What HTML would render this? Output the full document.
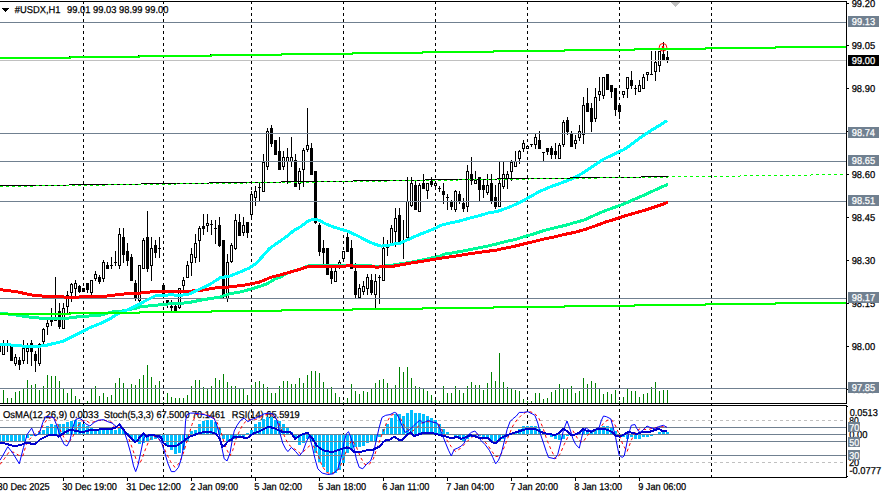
<!DOCTYPE html>
<html><head><meta charset="utf-8"><style>html,body{margin:0;padding:0;background:#fff;width:883px;height:491px;overflow:hidden}</style></head>
<body>
<svg width="883" height="491" viewBox="0 0 883 491" style="display:block">
<rect width="883" height="491" fill="#fff"/>
<g shape-rendering="crispEdges">
<rect x="83" y="2" width="1" height="2" fill="#000"/>
<rect x="83" y="7" width="1" height="3" fill="#000"/>
<rect x="83" y="13" width="1" height="3" fill="#000"/>
<rect x="83" y="19" width="1" height="3" fill="#000"/>
<rect x="83" y="25" width="1" height="3" fill="#000"/>
<rect x="83" y="31" width="1" height="3" fill="#000"/>
<rect x="83" y="37" width="1" height="3" fill="#000"/>
<rect x="83" y="43" width="1" height="3" fill="#000"/>
<rect x="83" y="49" width="1" height="3" fill="#000"/>
<rect x="83" y="55" width="1" height="3" fill="#000"/>
<rect x="83" y="61" width="1" height="3" fill="#000"/>
<rect x="83" y="67" width="1" height="3" fill="#000"/>
<rect x="83" y="73" width="1" height="3" fill="#000"/>
<rect x="83" y="79" width="1" height="3" fill="#000"/>
<rect x="83" y="85" width="1" height="3" fill="#000"/>
<rect x="83" y="91" width="1" height="3" fill="#000"/>
<rect x="83" y="97" width="1" height="3" fill="#000"/>
<rect x="83" y="103" width="1" height="3" fill="#000"/>
<rect x="83" y="109" width="1" height="3" fill="#000"/>
<rect x="83" y="115" width="1" height="3" fill="#000"/>
<rect x="83" y="121" width="1" height="3" fill="#000"/>
<rect x="83" y="127" width="1" height="3" fill="#000"/>
<rect x="83" y="133" width="1" height="3" fill="#000"/>
<rect x="83" y="139" width="1" height="3" fill="#000"/>
<rect x="83" y="145" width="1" height="3" fill="#000"/>
<rect x="83" y="151" width="1" height="3" fill="#000"/>
<rect x="83" y="157" width="1" height="3" fill="#000"/>
<rect x="83" y="163" width="1" height="3" fill="#000"/>
<rect x="83" y="169" width="1" height="3" fill="#000"/>
<rect x="83" y="175" width="1" height="3" fill="#000"/>
<rect x="83" y="181" width="1" height="3" fill="#000"/>
<rect x="83" y="187" width="1" height="3" fill="#000"/>
<rect x="83" y="193" width="1" height="3" fill="#000"/>
<rect x="83" y="199" width="1" height="3" fill="#000"/>
<rect x="83" y="205" width="1" height="3" fill="#000"/>
<rect x="83" y="211" width="1" height="3" fill="#000"/>
<rect x="83" y="217" width="1" height="3" fill="#000"/>
<rect x="83" y="223" width="1" height="3" fill="#000"/>
<rect x="83" y="229" width="1" height="3" fill="#000"/>
<rect x="83" y="235" width="1" height="3" fill="#000"/>
<rect x="83" y="241" width="1" height="3" fill="#000"/>
<rect x="83" y="247" width="1" height="3" fill="#000"/>
<rect x="83" y="253" width="1" height="3" fill="#000"/>
<rect x="83" y="259" width="1" height="3" fill="#000"/>
<rect x="83" y="265" width="1" height="3" fill="#000"/>
<rect x="83" y="271" width="1" height="3" fill="#000"/>
<rect x="83" y="277" width="1" height="3" fill="#000"/>
<rect x="83" y="283" width="1" height="3" fill="#000"/>
<rect x="83" y="289" width="1" height="3" fill="#000"/>
<rect x="83" y="295" width="1" height="3" fill="#000"/>
<rect x="83" y="301" width="1" height="3" fill="#000"/>
<rect x="83" y="307" width="1" height="3" fill="#000"/>
<rect x="83" y="313" width="1" height="3" fill="#000"/>
<rect x="83" y="319" width="1" height="3" fill="#000"/>
<rect x="83" y="325" width="1" height="3" fill="#000"/>
<rect x="83" y="331" width="1" height="3" fill="#000"/>
<rect x="83" y="337" width="1" height="3" fill="#000"/>
<rect x="83" y="343" width="1" height="3" fill="#000"/>
<rect x="83" y="349" width="1" height="3" fill="#000"/>
<rect x="83" y="355" width="1" height="3" fill="#000"/>
<rect x="83" y="361" width="1" height="3" fill="#000"/>
<rect x="83" y="367" width="1" height="3" fill="#000"/>
<rect x="83" y="373" width="1" height="3" fill="#000"/>
<rect x="83" y="379" width="1" height="3" fill="#000"/>
<rect x="83" y="385" width="1" height="3" fill="#000"/>
<rect x="83" y="391" width="1" height="3" fill="#000"/>
<rect x="83" y="397" width="1" height="3" fill="#000"/>
<rect x="83" y="409" width="1" height="3" fill="#000"/>
<rect x="83" y="415" width="1" height="3" fill="#000"/>
<rect x="83" y="421" width="1" height="3" fill="#000"/>
<rect x="83" y="427" width="1" height="3" fill="#000"/>
<rect x="83" y="433" width="1" height="3" fill="#000"/>
<rect x="83" y="439" width="1" height="3" fill="#000"/>
<rect x="83" y="445" width="1" height="3" fill="#000"/>
<rect x="83" y="451" width="1" height="3" fill="#000"/>
<rect x="83" y="457" width="1" height="3" fill="#000"/>
<rect x="83" y="463" width="1" height="3" fill="#000"/>
<rect x="83" y="469" width="1" height="3" fill="#000"/>
<rect x="83" y="475" width="1" height="2" fill="#000"/>
<rect x="83" y="404" width="1" height="1" fill="#000"/>
<rect x="163" y="2" width="1" height="2" fill="#000"/>
<rect x="163" y="7" width="1" height="3" fill="#000"/>
<rect x="163" y="13" width="1" height="3" fill="#000"/>
<rect x="163" y="19" width="1" height="3" fill="#000"/>
<rect x="163" y="25" width="1" height="3" fill="#000"/>
<rect x="163" y="31" width="1" height="3" fill="#000"/>
<rect x="163" y="37" width="1" height="3" fill="#000"/>
<rect x="163" y="43" width="1" height="3" fill="#000"/>
<rect x="163" y="49" width="1" height="3" fill="#000"/>
<rect x="163" y="55" width="1" height="3" fill="#000"/>
<rect x="163" y="61" width="1" height="3" fill="#000"/>
<rect x="163" y="67" width="1" height="3" fill="#000"/>
<rect x="163" y="73" width="1" height="3" fill="#000"/>
<rect x="163" y="79" width="1" height="3" fill="#000"/>
<rect x="163" y="85" width="1" height="3" fill="#000"/>
<rect x="163" y="91" width="1" height="3" fill="#000"/>
<rect x="163" y="97" width="1" height="3" fill="#000"/>
<rect x="163" y="103" width="1" height="3" fill="#000"/>
<rect x="163" y="109" width="1" height="3" fill="#000"/>
<rect x="163" y="115" width="1" height="3" fill="#000"/>
<rect x="163" y="121" width="1" height="3" fill="#000"/>
<rect x="163" y="127" width="1" height="3" fill="#000"/>
<rect x="163" y="133" width="1" height="3" fill="#000"/>
<rect x="163" y="139" width="1" height="3" fill="#000"/>
<rect x="163" y="145" width="1" height="3" fill="#000"/>
<rect x="163" y="151" width="1" height="3" fill="#000"/>
<rect x="163" y="157" width="1" height="3" fill="#000"/>
<rect x="163" y="163" width="1" height="3" fill="#000"/>
<rect x="163" y="169" width="1" height="3" fill="#000"/>
<rect x="163" y="175" width="1" height="3" fill="#000"/>
<rect x="163" y="181" width="1" height="3" fill="#000"/>
<rect x="163" y="187" width="1" height="3" fill="#000"/>
<rect x="163" y="193" width="1" height="3" fill="#000"/>
<rect x="163" y="199" width="1" height="3" fill="#000"/>
<rect x="163" y="205" width="1" height="3" fill="#000"/>
<rect x="163" y="211" width="1" height="3" fill="#000"/>
<rect x="163" y="217" width="1" height="3" fill="#000"/>
<rect x="163" y="223" width="1" height="3" fill="#000"/>
<rect x="163" y="229" width="1" height="3" fill="#000"/>
<rect x="163" y="235" width="1" height="3" fill="#000"/>
<rect x="163" y="241" width="1" height="3" fill="#000"/>
<rect x="163" y="247" width="1" height="3" fill="#000"/>
<rect x="163" y="253" width="1" height="3" fill="#000"/>
<rect x="163" y="259" width="1" height="3" fill="#000"/>
<rect x="163" y="265" width="1" height="3" fill="#000"/>
<rect x="163" y="271" width="1" height="3" fill="#000"/>
<rect x="163" y="277" width="1" height="3" fill="#000"/>
<rect x="163" y="283" width="1" height="3" fill="#000"/>
<rect x="163" y="289" width="1" height="3" fill="#000"/>
<rect x="163" y="295" width="1" height="3" fill="#000"/>
<rect x="163" y="301" width="1" height="3" fill="#000"/>
<rect x="163" y="307" width="1" height="3" fill="#000"/>
<rect x="163" y="313" width="1" height="3" fill="#000"/>
<rect x="163" y="319" width="1" height="3" fill="#000"/>
<rect x="163" y="325" width="1" height="3" fill="#000"/>
<rect x="163" y="331" width="1" height="3" fill="#000"/>
<rect x="163" y="337" width="1" height="3" fill="#000"/>
<rect x="163" y="343" width="1" height="3" fill="#000"/>
<rect x="163" y="349" width="1" height="3" fill="#000"/>
<rect x="163" y="355" width="1" height="3" fill="#000"/>
<rect x="163" y="361" width="1" height="3" fill="#000"/>
<rect x="163" y="367" width="1" height="3" fill="#000"/>
<rect x="163" y="373" width="1" height="3" fill="#000"/>
<rect x="163" y="379" width="1" height="3" fill="#000"/>
<rect x="163" y="385" width="1" height="3" fill="#000"/>
<rect x="163" y="391" width="1" height="3" fill="#000"/>
<rect x="163" y="397" width="1" height="3" fill="#000"/>
<rect x="163" y="409" width="1" height="3" fill="#000"/>
<rect x="163" y="415" width="1" height="3" fill="#000"/>
<rect x="163" y="421" width="1" height="3" fill="#000"/>
<rect x="163" y="427" width="1" height="3" fill="#000"/>
<rect x="163" y="433" width="1" height="3" fill="#000"/>
<rect x="163" y="439" width="1" height="3" fill="#000"/>
<rect x="163" y="445" width="1" height="3" fill="#000"/>
<rect x="163" y="451" width="1" height="3" fill="#000"/>
<rect x="163" y="457" width="1" height="3" fill="#000"/>
<rect x="163" y="463" width="1" height="3" fill="#000"/>
<rect x="163" y="469" width="1" height="3" fill="#000"/>
<rect x="163" y="475" width="1" height="2" fill="#000"/>
<rect x="163" y="404" width="1" height="1" fill="#000"/>
<rect x="251" y="2" width="1" height="2" fill="#000"/>
<rect x="251" y="7" width="1" height="3" fill="#000"/>
<rect x="251" y="13" width="1" height="3" fill="#000"/>
<rect x="251" y="19" width="1" height="3" fill="#000"/>
<rect x="251" y="25" width="1" height="3" fill="#000"/>
<rect x="251" y="31" width="1" height="3" fill="#000"/>
<rect x="251" y="37" width="1" height="3" fill="#000"/>
<rect x="251" y="43" width="1" height="3" fill="#000"/>
<rect x="251" y="49" width="1" height="3" fill="#000"/>
<rect x="251" y="55" width="1" height="3" fill="#000"/>
<rect x="251" y="61" width="1" height="3" fill="#000"/>
<rect x="251" y="67" width="1" height="3" fill="#000"/>
<rect x="251" y="73" width="1" height="3" fill="#000"/>
<rect x="251" y="79" width="1" height="3" fill="#000"/>
<rect x="251" y="85" width="1" height="3" fill="#000"/>
<rect x="251" y="91" width="1" height="3" fill="#000"/>
<rect x="251" y="97" width="1" height="3" fill="#000"/>
<rect x="251" y="103" width="1" height="3" fill="#000"/>
<rect x="251" y="109" width="1" height="3" fill="#000"/>
<rect x="251" y="115" width="1" height="3" fill="#000"/>
<rect x="251" y="121" width="1" height="3" fill="#000"/>
<rect x="251" y="127" width="1" height="3" fill="#000"/>
<rect x="251" y="133" width="1" height="3" fill="#000"/>
<rect x="251" y="139" width="1" height="3" fill="#000"/>
<rect x="251" y="145" width="1" height="3" fill="#000"/>
<rect x="251" y="151" width="1" height="3" fill="#000"/>
<rect x="251" y="157" width="1" height="3" fill="#000"/>
<rect x="251" y="163" width="1" height="3" fill="#000"/>
<rect x="251" y="169" width="1" height="3" fill="#000"/>
<rect x="251" y="175" width="1" height="3" fill="#000"/>
<rect x="251" y="181" width="1" height="3" fill="#000"/>
<rect x="251" y="187" width="1" height="3" fill="#000"/>
<rect x="251" y="193" width="1" height="3" fill="#000"/>
<rect x="251" y="199" width="1" height="3" fill="#000"/>
<rect x="251" y="205" width="1" height="3" fill="#000"/>
<rect x="251" y="211" width="1" height="3" fill="#000"/>
<rect x="251" y="217" width="1" height="3" fill="#000"/>
<rect x="251" y="223" width="1" height="3" fill="#000"/>
<rect x="251" y="229" width="1" height="3" fill="#000"/>
<rect x="251" y="235" width="1" height="3" fill="#000"/>
<rect x="251" y="241" width="1" height="3" fill="#000"/>
<rect x="251" y="247" width="1" height="3" fill="#000"/>
<rect x="251" y="253" width="1" height="3" fill="#000"/>
<rect x="251" y="259" width="1" height="3" fill="#000"/>
<rect x="251" y="265" width="1" height="3" fill="#000"/>
<rect x="251" y="271" width="1" height="3" fill="#000"/>
<rect x="251" y="277" width="1" height="3" fill="#000"/>
<rect x="251" y="283" width="1" height="3" fill="#000"/>
<rect x="251" y="289" width="1" height="3" fill="#000"/>
<rect x="251" y="295" width="1" height="3" fill="#000"/>
<rect x="251" y="301" width="1" height="3" fill="#000"/>
<rect x="251" y="307" width="1" height="3" fill="#000"/>
<rect x="251" y="313" width="1" height="3" fill="#000"/>
<rect x="251" y="319" width="1" height="3" fill="#000"/>
<rect x="251" y="325" width="1" height="3" fill="#000"/>
<rect x="251" y="331" width="1" height="3" fill="#000"/>
<rect x="251" y="337" width="1" height="3" fill="#000"/>
<rect x="251" y="343" width="1" height="3" fill="#000"/>
<rect x="251" y="349" width="1" height="3" fill="#000"/>
<rect x="251" y="355" width="1" height="3" fill="#000"/>
<rect x="251" y="361" width="1" height="3" fill="#000"/>
<rect x="251" y="367" width="1" height="3" fill="#000"/>
<rect x="251" y="373" width="1" height="3" fill="#000"/>
<rect x="251" y="379" width="1" height="3" fill="#000"/>
<rect x="251" y="385" width="1" height="3" fill="#000"/>
<rect x="251" y="391" width="1" height="3" fill="#000"/>
<rect x="251" y="397" width="1" height="3" fill="#000"/>
<rect x="251" y="409" width="1" height="3" fill="#000"/>
<rect x="251" y="415" width="1" height="3" fill="#000"/>
<rect x="251" y="421" width="1" height="3" fill="#000"/>
<rect x="251" y="427" width="1" height="3" fill="#000"/>
<rect x="251" y="433" width="1" height="3" fill="#000"/>
<rect x="251" y="439" width="1" height="3" fill="#000"/>
<rect x="251" y="445" width="1" height="3" fill="#000"/>
<rect x="251" y="451" width="1" height="3" fill="#000"/>
<rect x="251" y="457" width="1" height="3" fill="#000"/>
<rect x="251" y="463" width="1" height="3" fill="#000"/>
<rect x="251" y="469" width="1" height="3" fill="#000"/>
<rect x="251" y="475" width="1" height="2" fill="#000"/>
<rect x="251" y="404" width="1" height="1" fill="#000"/>
<rect x="343" y="2" width="1" height="2" fill="#000"/>
<rect x="343" y="7" width="1" height="3" fill="#000"/>
<rect x="343" y="13" width="1" height="3" fill="#000"/>
<rect x="343" y="19" width="1" height="3" fill="#000"/>
<rect x="343" y="25" width="1" height="3" fill="#000"/>
<rect x="343" y="31" width="1" height="3" fill="#000"/>
<rect x="343" y="37" width="1" height="3" fill="#000"/>
<rect x="343" y="43" width="1" height="3" fill="#000"/>
<rect x="343" y="49" width="1" height="3" fill="#000"/>
<rect x="343" y="55" width="1" height="3" fill="#000"/>
<rect x="343" y="61" width="1" height="3" fill="#000"/>
<rect x="343" y="67" width="1" height="3" fill="#000"/>
<rect x="343" y="73" width="1" height="3" fill="#000"/>
<rect x="343" y="79" width="1" height="3" fill="#000"/>
<rect x="343" y="85" width="1" height="3" fill="#000"/>
<rect x="343" y="91" width="1" height="3" fill="#000"/>
<rect x="343" y="97" width="1" height="3" fill="#000"/>
<rect x="343" y="103" width="1" height="3" fill="#000"/>
<rect x="343" y="109" width="1" height="3" fill="#000"/>
<rect x="343" y="115" width="1" height="3" fill="#000"/>
<rect x="343" y="121" width="1" height="3" fill="#000"/>
<rect x="343" y="127" width="1" height="3" fill="#000"/>
<rect x="343" y="133" width="1" height="3" fill="#000"/>
<rect x="343" y="139" width="1" height="3" fill="#000"/>
<rect x="343" y="145" width="1" height="3" fill="#000"/>
<rect x="343" y="151" width="1" height="3" fill="#000"/>
<rect x="343" y="157" width="1" height="3" fill="#000"/>
<rect x="343" y="163" width="1" height="3" fill="#000"/>
<rect x="343" y="169" width="1" height="3" fill="#000"/>
<rect x="343" y="175" width="1" height="3" fill="#000"/>
<rect x="343" y="181" width="1" height="3" fill="#000"/>
<rect x="343" y="187" width="1" height="3" fill="#000"/>
<rect x="343" y="193" width="1" height="3" fill="#000"/>
<rect x="343" y="199" width="1" height="3" fill="#000"/>
<rect x="343" y="205" width="1" height="3" fill="#000"/>
<rect x="343" y="211" width="1" height="3" fill="#000"/>
<rect x="343" y="217" width="1" height="3" fill="#000"/>
<rect x="343" y="223" width="1" height="3" fill="#000"/>
<rect x="343" y="229" width="1" height="3" fill="#000"/>
<rect x="343" y="235" width="1" height="3" fill="#000"/>
<rect x="343" y="241" width="1" height="3" fill="#000"/>
<rect x="343" y="247" width="1" height="3" fill="#000"/>
<rect x="343" y="253" width="1" height="3" fill="#000"/>
<rect x="343" y="259" width="1" height="3" fill="#000"/>
<rect x="343" y="265" width="1" height="3" fill="#000"/>
<rect x="343" y="271" width="1" height="3" fill="#000"/>
<rect x="343" y="277" width="1" height="3" fill="#000"/>
<rect x="343" y="283" width="1" height="3" fill="#000"/>
<rect x="343" y="289" width="1" height="3" fill="#000"/>
<rect x="343" y="295" width="1" height="3" fill="#000"/>
<rect x="343" y="301" width="1" height="3" fill="#000"/>
<rect x="343" y="307" width="1" height="3" fill="#000"/>
<rect x="343" y="313" width="1" height="3" fill="#000"/>
<rect x="343" y="319" width="1" height="3" fill="#000"/>
<rect x="343" y="325" width="1" height="3" fill="#000"/>
<rect x="343" y="331" width="1" height="3" fill="#000"/>
<rect x="343" y="337" width="1" height="3" fill="#000"/>
<rect x="343" y="343" width="1" height="3" fill="#000"/>
<rect x="343" y="349" width="1" height="3" fill="#000"/>
<rect x="343" y="355" width="1" height="3" fill="#000"/>
<rect x="343" y="361" width="1" height="3" fill="#000"/>
<rect x="343" y="367" width="1" height="3" fill="#000"/>
<rect x="343" y="373" width="1" height="3" fill="#000"/>
<rect x="343" y="379" width="1" height="3" fill="#000"/>
<rect x="343" y="385" width="1" height="3" fill="#000"/>
<rect x="343" y="391" width="1" height="3" fill="#000"/>
<rect x="343" y="397" width="1" height="3" fill="#000"/>
<rect x="343" y="409" width="1" height="3" fill="#000"/>
<rect x="343" y="415" width="1" height="3" fill="#000"/>
<rect x="343" y="421" width="1" height="3" fill="#000"/>
<rect x="343" y="427" width="1" height="3" fill="#000"/>
<rect x="343" y="433" width="1" height="3" fill="#000"/>
<rect x="343" y="439" width="1" height="3" fill="#000"/>
<rect x="343" y="445" width="1" height="3" fill="#000"/>
<rect x="343" y="451" width="1" height="3" fill="#000"/>
<rect x="343" y="457" width="1" height="3" fill="#000"/>
<rect x="343" y="463" width="1" height="3" fill="#000"/>
<rect x="343" y="469" width="1" height="3" fill="#000"/>
<rect x="343" y="475" width="1" height="2" fill="#000"/>
<rect x="343" y="404" width="1" height="1" fill="#000"/>
<rect x="435" y="2" width="1" height="2" fill="#000"/>
<rect x="435" y="7" width="1" height="3" fill="#000"/>
<rect x="435" y="13" width="1" height="3" fill="#000"/>
<rect x="435" y="19" width="1" height="3" fill="#000"/>
<rect x="435" y="25" width="1" height="3" fill="#000"/>
<rect x="435" y="31" width="1" height="3" fill="#000"/>
<rect x="435" y="37" width="1" height="3" fill="#000"/>
<rect x="435" y="43" width="1" height="3" fill="#000"/>
<rect x="435" y="49" width="1" height="3" fill="#000"/>
<rect x="435" y="55" width="1" height="3" fill="#000"/>
<rect x="435" y="61" width="1" height="3" fill="#000"/>
<rect x="435" y="67" width="1" height="3" fill="#000"/>
<rect x="435" y="73" width="1" height="3" fill="#000"/>
<rect x="435" y="79" width="1" height="3" fill="#000"/>
<rect x="435" y="85" width="1" height="3" fill="#000"/>
<rect x="435" y="91" width="1" height="3" fill="#000"/>
<rect x="435" y="97" width="1" height="3" fill="#000"/>
<rect x="435" y="103" width="1" height="3" fill="#000"/>
<rect x="435" y="109" width="1" height="3" fill="#000"/>
<rect x="435" y="115" width="1" height="3" fill="#000"/>
<rect x="435" y="121" width="1" height="3" fill="#000"/>
<rect x="435" y="127" width="1" height="3" fill="#000"/>
<rect x="435" y="133" width="1" height="3" fill="#000"/>
<rect x="435" y="139" width="1" height="3" fill="#000"/>
<rect x="435" y="145" width="1" height="3" fill="#000"/>
<rect x="435" y="151" width="1" height="3" fill="#000"/>
<rect x="435" y="157" width="1" height="3" fill="#000"/>
<rect x="435" y="163" width="1" height="3" fill="#000"/>
<rect x="435" y="169" width="1" height="3" fill="#000"/>
<rect x="435" y="175" width="1" height="3" fill="#000"/>
<rect x="435" y="181" width="1" height="3" fill="#000"/>
<rect x="435" y="187" width="1" height="3" fill="#000"/>
<rect x="435" y="193" width="1" height="3" fill="#000"/>
<rect x="435" y="199" width="1" height="3" fill="#000"/>
<rect x="435" y="205" width="1" height="3" fill="#000"/>
<rect x="435" y="211" width="1" height="3" fill="#000"/>
<rect x="435" y="217" width="1" height="3" fill="#000"/>
<rect x="435" y="223" width="1" height="3" fill="#000"/>
<rect x="435" y="229" width="1" height="3" fill="#000"/>
<rect x="435" y="235" width="1" height="3" fill="#000"/>
<rect x="435" y="241" width="1" height="3" fill="#000"/>
<rect x="435" y="247" width="1" height="3" fill="#000"/>
<rect x="435" y="253" width="1" height="3" fill="#000"/>
<rect x="435" y="259" width="1" height="3" fill="#000"/>
<rect x="435" y="265" width="1" height="3" fill="#000"/>
<rect x="435" y="271" width="1" height="3" fill="#000"/>
<rect x="435" y="277" width="1" height="3" fill="#000"/>
<rect x="435" y="283" width="1" height="3" fill="#000"/>
<rect x="435" y="289" width="1" height="3" fill="#000"/>
<rect x="435" y="295" width="1" height="3" fill="#000"/>
<rect x="435" y="301" width="1" height="3" fill="#000"/>
<rect x="435" y="307" width="1" height="3" fill="#000"/>
<rect x="435" y="313" width="1" height="3" fill="#000"/>
<rect x="435" y="319" width="1" height="3" fill="#000"/>
<rect x="435" y="325" width="1" height="3" fill="#000"/>
<rect x="435" y="331" width="1" height="3" fill="#000"/>
<rect x="435" y="337" width="1" height="3" fill="#000"/>
<rect x="435" y="343" width="1" height="3" fill="#000"/>
<rect x="435" y="349" width="1" height="3" fill="#000"/>
<rect x="435" y="355" width="1" height="3" fill="#000"/>
<rect x="435" y="361" width="1" height="3" fill="#000"/>
<rect x="435" y="367" width="1" height="3" fill="#000"/>
<rect x="435" y="373" width="1" height="3" fill="#000"/>
<rect x="435" y="379" width="1" height="3" fill="#000"/>
<rect x="435" y="385" width="1" height="3" fill="#000"/>
<rect x="435" y="391" width="1" height="3" fill="#000"/>
<rect x="435" y="397" width="1" height="3" fill="#000"/>
<rect x="435" y="409" width="1" height="3" fill="#000"/>
<rect x="435" y="415" width="1" height="3" fill="#000"/>
<rect x="435" y="421" width="1" height="3" fill="#000"/>
<rect x="435" y="427" width="1" height="3" fill="#000"/>
<rect x="435" y="433" width="1" height="3" fill="#000"/>
<rect x="435" y="439" width="1" height="3" fill="#000"/>
<rect x="435" y="445" width="1" height="3" fill="#000"/>
<rect x="435" y="451" width="1" height="3" fill="#000"/>
<rect x="435" y="457" width="1" height="3" fill="#000"/>
<rect x="435" y="463" width="1" height="3" fill="#000"/>
<rect x="435" y="469" width="1" height="3" fill="#000"/>
<rect x="435" y="475" width="1" height="2" fill="#000"/>
<rect x="435" y="404" width="1" height="1" fill="#000"/>
<rect x="527" y="2" width="1" height="2" fill="#000"/>
<rect x="527" y="7" width="1" height="3" fill="#000"/>
<rect x="527" y="13" width="1" height="3" fill="#000"/>
<rect x="527" y="19" width="1" height="3" fill="#000"/>
<rect x="527" y="25" width="1" height="3" fill="#000"/>
<rect x="527" y="31" width="1" height="3" fill="#000"/>
<rect x="527" y="37" width="1" height="3" fill="#000"/>
<rect x="527" y="43" width="1" height="3" fill="#000"/>
<rect x="527" y="49" width="1" height="3" fill="#000"/>
<rect x="527" y="55" width="1" height="3" fill="#000"/>
<rect x="527" y="61" width="1" height="3" fill="#000"/>
<rect x="527" y="67" width="1" height="3" fill="#000"/>
<rect x="527" y="73" width="1" height="3" fill="#000"/>
<rect x="527" y="79" width="1" height="3" fill="#000"/>
<rect x="527" y="85" width="1" height="3" fill="#000"/>
<rect x="527" y="91" width="1" height="3" fill="#000"/>
<rect x="527" y="97" width="1" height="3" fill="#000"/>
<rect x="527" y="103" width="1" height="3" fill="#000"/>
<rect x="527" y="109" width="1" height="3" fill="#000"/>
<rect x="527" y="115" width="1" height="3" fill="#000"/>
<rect x="527" y="121" width="1" height="3" fill="#000"/>
<rect x="527" y="127" width="1" height="3" fill="#000"/>
<rect x="527" y="133" width="1" height="3" fill="#000"/>
<rect x="527" y="139" width="1" height="3" fill="#000"/>
<rect x="527" y="145" width="1" height="3" fill="#000"/>
<rect x="527" y="151" width="1" height="3" fill="#000"/>
<rect x="527" y="157" width="1" height="3" fill="#000"/>
<rect x="527" y="163" width="1" height="3" fill="#000"/>
<rect x="527" y="169" width="1" height="3" fill="#000"/>
<rect x="527" y="175" width="1" height="3" fill="#000"/>
<rect x="527" y="181" width="1" height="3" fill="#000"/>
<rect x="527" y="187" width="1" height="3" fill="#000"/>
<rect x="527" y="193" width="1" height="3" fill="#000"/>
<rect x="527" y="199" width="1" height="3" fill="#000"/>
<rect x="527" y="205" width="1" height="3" fill="#000"/>
<rect x="527" y="211" width="1" height="3" fill="#000"/>
<rect x="527" y="217" width="1" height="3" fill="#000"/>
<rect x="527" y="223" width="1" height="3" fill="#000"/>
<rect x="527" y="229" width="1" height="3" fill="#000"/>
<rect x="527" y="235" width="1" height="3" fill="#000"/>
<rect x="527" y="241" width="1" height="3" fill="#000"/>
<rect x="527" y="247" width="1" height="3" fill="#000"/>
<rect x="527" y="253" width="1" height="3" fill="#000"/>
<rect x="527" y="259" width="1" height="3" fill="#000"/>
<rect x="527" y="265" width="1" height="3" fill="#000"/>
<rect x="527" y="271" width="1" height="3" fill="#000"/>
<rect x="527" y="277" width="1" height="3" fill="#000"/>
<rect x="527" y="283" width="1" height="3" fill="#000"/>
<rect x="527" y="289" width="1" height="3" fill="#000"/>
<rect x="527" y="295" width="1" height="3" fill="#000"/>
<rect x="527" y="301" width="1" height="3" fill="#000"/>
<rect x="527" y="307" width="1" height="3" fill="#000"/>
<rect x="527" y="313" width="1" height="3" fill="#000"/>
<rect x="527" y="319" width="1" height="3" fill="#000"/>
<rect x="527" y="325" width="1" height="3" fill="#000"/>
<rect x="527" y="331" width="1" height="3" fill="#000"/>
<rect x="527" y="337" width="1" height="3" fill="#000"/>
<rect x="527" y="343" width="1" height="3" fill="#000"/>
<rect x="527" y="349" width="1" height="3" fill="#000"/>
<rect x="527" y="355" width="1" height="3" fill="#000"/>
<rect x="527" y="361" width="1" height="3" fill="#000"/>
<rect x="527" y="367" width="1" height="3" fill="#000"/>
<rect x="527" y="373" width="1" height="3" fill="#000"/>
<rect x="527" y="379" width="1" height="3" fill="#000"/>
<rect x="527" y="385" width="1" height="3" fill="#000"/>
<rect x="527" y="391" width="1" height="3" fill="#000"/>
<rect x="527" y="397" width="1" height="3" fill="#000"/>
<rect x="527" y="409" width="1" height="3" fill="#000"/>
<rect x="527" y="415" width="1" height="3" fill="#000"/>
<rect x="527" y="421" width="1" height="3" fill="#000"/>
<rect x="527" y="427" width="1" height="3" fill="#000"/>
<rect x="527" y="433" width="1" height="3" fill="#000"/>
<rect x="527" y="439" width="1" height="3" fill="#000"/>
<rect x="527" y="445" width="1" height="3" fill="#000"/>
<rect x="527" y="451" width="1" height="3" fill="#000"/>
<rect x="527" y="457" width="1" height="3" fill="#000"/>
<rect x="527" y="463" width="1" height="3" fill="#000"/>
<rect x="527" y="469" width="1" height="3" fill="#000"/>
<rect x="527" y="475" width="1" height="2" fill="#000"/>
<rect x="527" y="404" width="1" height="1" fill="#000"/>
<rect x="619" y="2" width="1" height="2" fill="#000"/>
<rect x="619" y="7" width="1" height="3" fill="#000"/>
<rect x="619" y="13" width="1" height="3" fill="#000"/>
<rect x="619" y="19" width="1" height="3" fill="#000"/>
<rect x="619" y="25" width="1" height="3" fill="#000"/>
<rect x="619" y="31" width="1" height="3" fill="#000"/>
<rect x="619" y="37" width="1" height="3" fill="#000"/>
<rect x="619" y="43" width="1" height="3" fill="#000"/>
<rect x="619" y="49" width="1" height="3" fill="#000"/>
<rect x="619" y="55" width="1" height="3" fill="#000"/>
<rect x="619" y="61" width="1" height="3" fill="#000"/>
<rect x="619" y="67" width="1" height="3" fill="#000"/>
<rect x="619" y="73" width="1" height="3" fill="#000"/>
<rect x="619" y="79" width="1" height="3" fill="#000"/>
<rect x="619" y="85" width="1" height="3" fill="#000"/>
<rect x="619" y="91" width="1" height="3" fill="#000"/>
<rect x="619" y="97" width="1" height="3" fill="#000"/>
<rect x="619" y="103" width="1" height="3" fill="#000"/>
<rect x="619" y="109" width="1" height="3" fill="#000"/>
<rect x="619" y="115" width="1" height="3" fill="#000"/>
<rect x="619" y="121" width="1" height="3" fill="#000"/>
<rect x="619" y="127" width="1" height="3" fill="#000"/>
<rect x="619" y="133" width="1" height="3" fill="#000"/>
<rect x="619" y="139" width="1" height="3" fill="#000"/>
<rect x="619" y="145" width="1" height="3" fill="#000"/>
<rect x="619" y="151" width="1" height="3" fill="#000"/>
<rect x="619" y="157" width="1" height="3" fill="#000"/>
<rect x="619" y="163" width="1" height="3" fill="#000"/>
<rect x="619" y="169" width="1" height="3" fill="#000"/>
<rect x="619" y="175" width="1" height="3" fill="#000"/>
<rect x="619" y="181" width="1" height="3" fill="#000"/>
<rect x="619" y="187" width="1" height="3" fill="#000"/>
<rect x="619" y="193" width="1" height="3" fill="#000"/>
<rect x="619" y="199" width="1" height="3" fill="#000"/>
<rect x="619" y="205" width="1" height="3" fill="#000"/>
<rect x="619" y="211" width="1" height="3" fill="#000"/>
<rect x="619" y="217" width="1" height="3" fill="#000"/>
<rect x="619" y="223" width="1" height="3" fill="#000"/>
<rect x="619" y="229" width="1" height="3" fill="#000"/>
<rect x="619" y="235" width="1" height="3" fill="#000"/>
<rect x="619" y="241" width="1" height="3" fill="#000"/>
<rect x="619" y="247" width="1" height="3" fill="#000"/>
<rect x="619" y="253" width="1" height="3" fill="#000"/>
<rect x="619" y="259" width="1" height="3" fill="#000"/>
<rect x="619" y="265" width="1" height="3" fill="#000"/>
<rect x="619" y="271" width="1" height="3" fill="#000"/>
<rect x="619" y="277" width="1" height="3" fill="#000"/>
<rect x="619" y="283" width="1" height="3" fill="#000"/>
<rect x="619" y="289" width="1" height="3" fill="#000"/>
<rect x="619" y="295" width="1" height="3" fill="#000"/>
<rect x="619" y="301" width="1" height="3" fill="#000"/>
<rect x="619" y="307" width="1" height="3" fill="#000"/>
<rect x="619" y="313" width="1" height="3" fill="#000"/>
<rect x="619" y="319" width="1" height="3" fill="#000"/>
<rect x="619" y="325" width="1" height="3" fill="#000"/>
<rect x="619" y="331" width="1" height="3" fill="#000"/>
<rect x="619" y="337" width="1" height="3" fill="#000"/>
<rect x="619" y="343" width="1" height="3" fill="#000"/>
<rect x="619" y="349" width="1" height="3" fill="#000"/>
<rect x="619" y="355" width="1" height="3" fill="#000"/>
<rect x="619" y="361" width="1" height="3" fill="#000"/>
<rect x="619" y="367" width="1" height="3" fill="#000"/>
<rect x="619" y="373" width="1" height="3" fill="#000"/>
<rect x="619" y="379" width="1" height="3" fill="#000"/>
<rect x="619" y="385" width="1" height="3" fill="#000"/>
<rect x="619" y="391" width="1" height="3" fill="#000"/>
<rect x="619" y="397" width="1" height="3" fill="#000"/>
<rect x="619" y="409" width="1" height="3" fill="#000"/>
<rect x="619" y="415" width="1" height="3" fill="#000"/>
<rect x="619" y="421" width="1" height="3" fill="#000"/>
<rect x="619" y="427" width="1" height="3" fill="#000"/>
<rect x="619" y="433" width="1" height="3" fill="#000"/>
<rect x="619" y="439" width="1" height="3" fill="#000"/>
<rect x="619" y="445" width="1" height="3" fill="#000"/>
<rect x="619" y="451" width="1" height="3" fill="#000"/>
<rect x="619" y="457" width="1" height="3" fill="#000"/>
<rect x="619" y="463" width="1" height="3" fill="#000"/>
<rect x="619" y="469" width="1" height="3" fill="#000"/>
<rect x="619" y="475" width="1" height="2" fill="#000"/>
<rect x="619" y="404" width="1" height="1" fill="#000"/>
<rect x="711" y="2" width="1" height="2" fill="#000"/>
<rect x="711" y="7" width="1" height="3" fill="#000"/>
<rect x="711" y="13" width="1" height="3" fill="#000"/>
<rect x="711" y="19" width="1" height="3" fill="#000"/>
<rect x="711" y="25" width="1" height="3" fill="#000"/>
<rect x="711" y="31" width="1" height="3" fill="#000"/>
<rect x="711" y="37" width="1" height="3" fill="#000"/>
<rect x="711" y="43" width="1" height="3" fill="#000"/>
<rect x="711" y="49" width="1" height="3" fill="#000"/>
<rect x="711" y="55" width="1" height="3" fill="#000"/>
<rect x="711" y="61" width="1" height="3" fill="#000"/>
<rect x="711" y="67" width="1" height="3" fill="#000"/>
<rect x="711" y="73" width="1" height="3" fill="#000"/>
<rect x="711" y="79" width="1" height="3" fill="#000"/>
<rect x="711" y="85" width="1" height="3" fill="#000"/>
<rect x="711" y="91" width="1" height="3" fill="#000"/>
<rect x="711" y="97" width="1" height="3" fill="#000"/>
<rect x="711" y="103" width="1" height="3" fill="#000"/>
<rect x="711" y="109" width="1" height="3" fill="#000"/>
<rect x="711" y="115" width="1" height="3" fill="#000"/>
<rect x="711" y="121" width="1" height="3" fill="#000"/>
<rect x="711" y="127" width="1" height="3" fill="#000"/>
<rect x="711" y="133" width="1" height="3" fill="#000"/>
<rect x="711" y="139" width="1" height="3" fill="#000"/>
<rect x="711" y="145" width="1" height="3" fill="#000"/>
<rect x="711" y="151" width="1" height="3" fill="#000"/>
<rect x="711" y="157" width="1" height="3" fill="#000"/>
<rect x="711" y="163" width="1" height="3" fill="#000"/>
<rect x="711" y="169" width="1" height="3" fill="#000"/>
<rect x="711" y="175" width="1" height="3" fill="#000"/>
<rect x="711" y="181" width="1" height="3" fill="#000"/>
<rect x="711" y="187" width="1" height="3" fill="#000"/>
<rect x="711" y="193" width="1" height="3" fill="#000"/>
<rect x="711" y="199" width="1" height="3" fill="#000"/>
<rect x="711" y="205" width="1" height="3" fill="#000"/>
<rect x="711" y="211" width="1" height="3" fill="#000"/>
<rect x="711" y="217" width="1" height="3" fill="#000"/>
<rect x="711" y="223" width="1" height="3" fill="#000"/>
<rect x="711" y="229" width="1" height="3" fill="#000"/>
<rect x="711" y="235" width="1" height="3" fill="#000"/>
<rect x="711" y="241" width="1" height="3" fill="#000"/>
<rect x="711" y="247" width="1" height="3" fill="#000"/>
<rect x="711" y="253" width="1" height="3" fill="#000"/>
<rect x="711" y="259" width="1" height="3" fill="#000"/>
<rect x="711" y="265" width="1" height="3" fill="#000"/>
<rect x="711" y="271" width="1" height="3" fill="#000"/>
<rect x="711" y="277" width="1" height="3" fill="#000"/>
<rect x="711" y="283" width="1" height="3" fill="#000"/>
<rect x="711" y="289" width="1" height="3" fill="#000"/>
<rect x="711" y="295" width="1" height="3" fill="#000"/>
<rect x="711" y="301" width="1" height="3" fill="#000"/>
<rect x="711" y="307" width="1" height="3" fill="#000"/>
<rect x="711" y="313" width="1" height="3" fill="#000"/>
<rect x="711" y="319" width="1" height="3" fill="#000"/>
<rect x="711" y="325" width="1" height="3" fill="#000"/>
<rect x="711" y="331" width="1" height="3" fill="#000"/>
<rect x="711" y="337" width="1" height="3" fill="#000"/>
<rect x="711" y="343" width="1" height="3" fill="#000"/>
<rect x="711" y="349" width="1" height="3" fill="#000"/>
<rect x="711" y="355" width="1" height="3" fill="#000"/>
<rect x="711" y="361" width="1" height="3" fill="#000"/>
<rect x="711" y="367" width="1" height="3" fill="#000"/>
<rect x="711" y="373" width="1" height="3" fill="#000"/>
<rect x="711" y="379" width="1" height="3" fill="#000"/>
<rect x="711" y="385" width="1" height="3" fill="#000"/>
<rect x="711" y="391" width="1" height="3" fill="#000"/>
<rect x="711" y="397" width="1" height="3" fill="#000"/>
<rect x="711" y="409" width="1" height="3" fill="#000"/>
<rect x="711" y="415" width="1" height="3" fill="#000"/>
<rect x="711" y="421" width="1" height="3" fill="#000"/>
<rect x="711" y="427" width="1" height="3" fill="#000"/>
<rect x="711" y="433" width="1" height="3" fill="#000"/>
<rect x="711" y="439" width="1" height="3" fill="#000"/>
<rect x="711" y="445" width="1" height="3" fill="#000"/>
<rect x="711" y="451" width="1" height="3" fill="#000"/>
<rect x="711" y="457" width="1" height="3" fill="#000"/>
<rect x="711" y="463" width="1" height="3" fill="#000"/>
<rect x="711" y="469" width="1" height="3" fill="#000"/>
<rect x="711" y="475" width="1" height="2" fill="#000"/>
<rect x="711" y="404" width="1" height="1" fill="#000"/>
<rect x="3" y="390" width="1" height="13" fill="#008000"/>
<rect x="7" y="398" width="1" height="5" fill="#008000"/>
<rect x="11" y="398" width="1" height="5" fill="#008000"/>
<rect x="15" y="392" width="1" height="11" fill="#008000"/>
<rect x="19" y="391" width="1" height="12" fill="#008000"/>
<rect x="23" y="389" width="1" height="14" fill="#008000"/>
<rect x="27" y="380" width="1" height="23" fill="#008000"/>
<rect x="31" y="385" width="1" height="18" fill="#008000"/>
<rect x="35" y="384" width="1" height="19" fill="#008000"/>
<rect x="39" y="390" width="1" height="13" fill="#008000"/>
<rect x="43" y="386" width="1" height="17" fill="#008000"/>
<rect x="47" y="375" width="1" height="28" fill="#008000"/>
<rect x="51" y="376" width="1" height="27" fill="#008000"/>
<rect x="55" y="376" width="1" height="27" fill="#008000"/>
<rect x="59" y="381" width="1" height="22" fill="#008000"/>
<rect x="63" y="389" width="1" height="14" fill="#008000"/>
<rect x="67" y="393" width="1" height="10" fill="#008000"/>
<rect x="71" y="389" width="1" height="14" fill="#008000"/>
<rect x="75" y="396" width="1" height="7" fill="#008000"/>
<rect x="79" y="399" width="1" height="4" fill="#008000"/>
<rect x="87" y="401" width="1" height="2" fill="#008000"/>
<rect x="91" y="389" width="1" height="14" fill="#008000"/>
<rect x="95" y="386" width="1" height="17" fill="#008000"/>
<rect x="99" y="396" width="1" height="7" fill="#008000"/>
<rect x="103" y="393" width="1" height="10" fill="#008000"/>
<rect x="107" y="397" width="1" height="6" fill="#008000"/>
<rect x="111" y="395" width="1" height="8" fill="#008000"/>
<rect x="115" y="383" width="1" height="20" fill="#008000"/>
<rect x="119" y="378" width="1" height="25" fill="#008000"/>
<rect x="123" y="383" width="1" height="20" fill="#008000"/>
<rect x="127" y="389" width="1" height="14" fill="#008000"/>
<rect x="131" y="384" width="1" height="19" fill="#008000"/>
<rect x="135" y="385" width="1" height="18" fill="#008000"/>
<rect x="139" y="379" width="1" height="24" fill="#008000"/>
<rect x="143" y="375" width="1" height="28" fill="#008000"/>
<rect x="147" y="365" width="1" height="38" fill="#008000"/>
<rect x="151" y="377" width="1" height="26" fill="#008000"/>
<rect x="155" y="385" width="1" height="18" fill="#008000"/>
<rect x="159" y="381" width="1" height="22" fill="#008000"/>
<rect x="163" y="402" width="1" height="1" fill="#008000"/>
<rect x="167" y="393" width="1" height="10" fill="#008000"/>
<rect x="171" y="397" width="1" height="6" fill="#008000"/>
<rect x="175" y="398" width="1" height="5" fill="#008000"/>
<rect x="179" y="398" width="1" height="5" fill="#008000"/>
<rect x="183" y="398" width="1" height="5" fill="#008000"/>
<rect x="187" y="395" width="1" height="8" fill="#008000"/>
<rect x="191" y="386" width="1" height="17" fill="#008000"/>
<rect x="195" y="380" width="1" height="23" fill="#008000"/>
<rect x="199" y="380" width="1" height="23" fill="#008000"/>
<rect x="203" y="387" width="1" height="16" fill="#008000"/>
<rect x="207" y="389" width="1" height="14" fill="#008000"/>
<rect x="211" y="386" width="1" height="17" fill="#008000"/>
<rect x="215" y="378" width="1" height="25" fill="#008000"/>
<rect x="219" y="380" width="1" height="23" fill="#008000"/>
<rect x="223" y="374" width="1" height="29" fill="#008000"/>
<rect x="227" y="382" width="1" height="21" fill="#008000"/>
<rect x="231" y="386" width="1" height="17" fill="#008000"/>
<rect x="235" y="386" width="1" height="17" fill="#008000"/>
<rect x="239" y="389" width="1" height="14" fill="#008000"/>
<rect x="243" y="389" width="1" height="14" fill="#008000"/>
<rect x="247" y="395" width="1" height="8" fill="#008000"/>
<rect x="251" y="385" width="1" height="18" fill="#008000"/>
<rect x="255" y="382" width="1" height="21" fill="#008000"/>
<rect x="259" y="381" width="1" height="22" fill="#008000"/>
<rect x="263" y="384" width="1" height="19" fill="#008000"/>
<rect x="267" y="387" width="1" height="16" fill="#008000"/>
<rect x="271" y="393" width="1" height="10" fill="#008000"/>
<rect x="275" y="393" width="1" height="10" fill="#008000"/>
<rect x="279" y="386" width="1" height="17" fill="#008000"/>
<rect x="283" y="381" width="1" height="22" fill="#008000"/>
<rect x="287" y="381" width="1" height="22" fill="#008000"/>
<rect x="291" y="384" width="1" height="19" fill="#008000"/>
<rect x="295" y="384" width="1" height="19" fill="#008000"/>
<rect x="299" y="378" width="1" height="25" fill="#008000"/>
<rect x="303" y="383" width="1" height="20" fill="#008000"/>
<rect x="307" y="375" width="1" height="28" fill="#008000"/>
<rect x="311" y="371" width="1" height="32" fill="#008000"/>
<rect x="315" y="371" width="1" height="32" fill="#008000"/>
<rect x="319" y="373" width="1" height="30" fill="#008000"/>
<rect x="323" y="382" width="1" height="21" fill="#008000"/>
<rect x="327" y="389" width="1" height="14" fill="#008000"/>
<rect x="331" y="387" width="1" height="16" fill="#008000"/>
<rect x="335" y="393" width="1" height="10" fill="#008000"/>
<rect x="339" y="397" width="1" height="6" fill="#008000"/>
<rect x="343" y="402" width="1" height="1" fill="#008000"/>
<rect x="347" y="398" width="1" height="5" fill="#008000"/>
<rect x="351" y="384" width="1" height="19" fill="#008000"/>
<rect x="355" y="391" width="1" height="12" fill="#008000"/>
<rect x="359" y="394" width="1" height="9" fill="#008000"/>
<rect x="363" y="391" width="1" height="12" fill="#008000"/>
<rect x="367" y="392" width="1" height="11" fill="#008000"/>
<rect x="371" y="389" width="1" height="14" fill="#008000"/>
<rect x="375" y="383" width="1" height="20" fill="#008000"/>
<rect x="379" y="380" width="1" height="23" fill="#008000"/>
<rect x="383" y="379" width="1" height="24" fill="#008000"/>
<rect x="387" y="383" width="1" height="20" fill="#008000"/>
<rect x="391" y="389" width="1" height="14" fill="#008000"/>
<rect x="395" y="385" width="1" height="18" fill="#008000"/>
<rect x="399" y="367" width="1" height="36" fill="#008000"/>
<rect x="403" y="372" width="1" height="31" fill="#008000"/>
<rect x="407" y="367" width="1" height="36" fill="#008000"/>
<rect x="411" y="378" width="1" height="25" fill="#008000"/>
<rect x="415" y="386" width="1" height="17" fill="#008000"/>
<rect x="419" y="387" width="1" height="16" fill="#008000"/>
<rect x="423" y="389" width="1" height="14" fill="#008000"/>
<rect x="427" y="391" width="1" height="12" fill="#008000"/>
<rect x="431" y="395" width="1" height="8" fill="#008000"/>
<rect x="435" y="400" width="1" height="3" fill="#008000"/>
<rect x="439" y="401" width="1" height="2" fill="#008000"/>
<rect x="443" y="386" width="1" height="17" fill="#008000"/>
<rect x="447" y="393" width="1" height="10" fill="#008000"/>
<rect x="451" y="393" width="1" height="10" fill="#008000"/>
<rect x="455" y="386" width="1" height="17" fill="#008000"/>
<rect x="459" y="390" width="1" height="13" fill="#008000"/>
<rect x="463" y="393" width="1" height="10" fill="#008000"/>
<rect x="467" y="386" width="1" height="17" fill="#008000"/>
<rect x="471" y="382" width="1" height="21" fill="#008000"/>
<rect x="475" y="385" width="1" height="18" fill="#008000"/>
<rect x="479" y="385" width="1" height="18" fill="#008000"/>
<rect x="483" y="390" width="1" height="13" fill="#008000"/>
<rect x="487" y="383" width="1" height="20" fill="#008000"/>
<rect x="491" y="372" width="1" height="31" fill="#008000"/>
<rect x="495" y="381" width="1" height="22" fill="#008000"/>
<rect x="499" y="353" width="1" height="50" fill="#008000"/>
<rect x="503" y="382" width="1" height="21" fill="#008000"/>
<rect x="507" y="387" width="1" height="16" fill="#008000"/>
<rect x="511" y="389" width="1" height="14" fill="#008000"/>
<rect x="515" y="390" width="1" height="13" fill="#008000"/>
<rect x="519" y="391" width="1" height="12" fill="#008000"/>
<rect x="523" y="399" width="1" height="4" fill="#008000"/>
<rect x="527" y="401" width="1" height="2" fill="#008000"/>
<rect x="531" y="401" width="1" height="2" fill="#008000"/>
<rect x="535" y="393" width="1" height="10" fill="#008000"/>
<rect x="539" y="393" width="1" height="10" fill="#008000"/>
<rect x="543" y="399" width="1" height="4" fill="#008000"/>
<rect x="547" y="398" width="1" height="5" fill="#008000"/>
<rect x="551" y="392" width="1" height="11" fill="#008000"/>
<rect x="555" y="390" width="1" height="13" fill="#008000"/>
<rect x="559" y="384" width="1" height="19" fill="#008000"/>
<rect x="563" y="389" width="1" height="14" fill="#008000"/>
<rect x="567" y="389" width="1" height="14" fill="#008000"/>
<rect x="571" y="386" width="1" height="17" fill="#008000"/>
<rect x="575" y="393" width="1" height="10" fill="#008000"/>
<rect x="579" y="391" width="1" height="12" fill="#008000"/>
<rect x="583" y="378" width="1" height="25" fill="#008000"/>
<rect x="587" y="384" width="1" height="19" fill="#008000"/>
<rect x="591" y="381" width="1" height="22" fill="#008000"/>
<rect x="595" y="383" width="1" height="20" fill="#008000"/>
<rect x="599" y="389" width="1" height="14" fill="#008000"/>
<rect x="603" y="394" width="1" height="9" fill="#008000"/>
<rect x="607" y="392" width="1" height="11" fill="#008000"/>
<rect x="611" y="394" width="1" height="9" fill="#008000"/>
<rect x="615" y="390" width="1" height="13" fill="#008000"/>
<rect x="619" y="401" width="1" height="2" fill="#008000"/>
<rect x="623" y="397" width="1" height="6" fill="#008000"/>
<rect x="627" y="389" width="1" height="14" fill="#008000"/>
<rect x="631" y="391" width="1" height="12" fill="#008000"/>
<rect x="635" y="391" width="1" height="12" fill="#008000"/>
<rect x="639" y="397" width="1" height="6" fill="#008000"/>
<rect x="643" y="394" width="1" height="9" fill="#008000"/>
<rect x="647" y="393" width="1" height="10" fill="#008000"/>
<rect x="651" y="387" width="1" height="16" fill="#008000"/>
<rect x="655" y="382" width="1" height="21" fill="#008000"/>
<rect x="659" y="391" width="1" height="12" fill="#008000"/>
<rect x="663" y="390" width="1" height="13" fill="#008000"/>
<rect x="667" y="390" width="1" height="13" fill="#008000"/>
<rect x="-1" y="343" width="1" height="2" fill="#000"/>
<rect x="-1" y="352" width="1" height="2" fill="#000"/>
<rect x="-2" y="345" width="3" height="7" fill="#000"/>
<rect x="3" y="340" width="1" height="5" fill="#000"/>
<rect x="2" y="345" width="3" height="10" fill="#000"/>
<rect x="3" y="346" width="1" height="8" fill="#fff"/>
<rect x="7" y="340" width="1" height="5" fill="#000"/>
<rect x="7" y="346" width="1" height="6" fill="#000"/>
<rect x="6" y="345" width="3" height="1" fill="#000"/>
<rect x="10" y="345" width="3" height="16" fill="#000"/>
<rect x="15" y="354" width="1" height="3" fill="#000"/>
<rect x="15" y="364" width="1" height="2" fill="#000"/>
<rect x="14" y="357" width="3" height="7" fill="#000"/>
<rect x="15" y="358" width="1" height="5" fill="#fff"/>
<rect x="19" y="357" width="1" height="3" fill="#000"/>
<rect x="19" y="365" width="1" height="5" fill="#000"/>
<rect x="18" y="360" width="3" height="5" fill="#000"/>
<rect x="23" y="340" width="1" height="8" fill="#000"/>
<rect x="23" y="361" width="1" height="3" fill="#000"/>
<rect x="22" y="348" width="3" height="13" fill="#000"/>
<rect x="23" y="349" width="1" height="11" fill="#fff"/>
<rect x="27" y="343" width="1" height="5" fill="#000"/>
<rect x="27" y="352" width="1" height="12" fill="#000"/>
<rect x="26" y="348" width="3" height="4" fill="#000"/>
<rect x="27" y="349" width="1" height="2" fill="#fff"/>
<rect x="31" y="340" width="1" height="3" fill="#000"/>
<rect x="31" y="352" width="1" height="14" fill="#000"/>
<rect x="30" y="343" width="3" height="9" fill="#000"/>
<rect x="35" y="351" width="1" height="3" fill="#000"/>
<rect x="35" y="361" width="1" height="11" fill="#000"/>
<rect x="34" y="354" width="3" height="7" fill="#000"/>
<rect x="39" y="343" width="1" height="1" fill="#000"/>
<rect x="39" y="364" width="1" height="2" fill="#000"/>
<rect x="38" y="344" width="3" height="20" fill="#000"/>
<rect x="39" y="345" width="1" height="18" fill="#fff"/>
<rect x="43" y="328" width="1" height="1" fill="#000"/>
<rect x="43" y="342" width="1" height="2" fill="#000"/>
<rect x="42" y="329" width="3" height="13" fill="#000"/>
<rect x="43" y="330" width="1" height="11" fill="#fff"/>
<rect x="47" y="320" width="1" height="3" fill="#000"/>
<rect x="47" y="327" width="1" height="8" fill="#000"/>
<rect x="46" y="323" width="3" height="4" fill="#000"/>
<rect x="47" y="324" width="1" height="2" fill="#fff"/>
<rect x="51" y="308" width="1" height="12" fill="#000"/>
<rect x="51" y="322" width="1" height="4" fill="#000"/>
<rect x="50" y="320" width="3" height="2" fill="#000"/>
<rect x="55" y="277" width="1" height="43" fill="#000"/>
<rect x="54" y="320" width="3" height="1" fill="#000"/>
<rect x="59" y="303" width="1" height="8" fill="#000"/>
<rect x="59" y="327" width="1" height="2" fill="#000"/>
<rect x="58" y="311" width="3" height="16" fill="#000"/>
<rect x="63" y="303" width="1" height="5" fill="#000"/>
<rect x="62" y="308" width="3" height="21" fill="#000"/>
<rect x="63" y="309" width="1" height="19" fill="#fff"/>
<rect x="67" y="291" width="1" height="4" fill="#000"/>
<rect x="67" y="307" width="1" height="6" fill="#000"/>
<rect x="66" y="295" width="3" height="12" fill="#000"/>
<rect x="67" y="296" width="1" height="10" fill="#fff"/>
<rect x="71" y="283" width="1" height="1" fill="#000"/>
<rect x="71" y="293" width="1" height="9" fill="#000"/>
<rect x="70" y="284" width="3" height="9" fill="#000"/>
<rect x="71" y="285" width="1" height="7" fill="#fff"/>
<rect x="75" y="280" width="1" height="3" fill="#000"/>
<rect x="75" y="289" width="1" height="7" fill="#000"/>
<rect x="74" y="283" width="3" height="6" fill="#000"/>
<rect x="75" y="284" width="1" height="4" fill="#fff"/>
<rect x="79" y="285" width="1" height="1" fill="#000"/>
<rect x="79" y="292" width="1" height="1" fill="#000"/>
<rect x="78" y="286" width="3" height="6" fill="#000"/>
<rect x="82" y="288" width="3" height="4" fill="#000"/>
<rect x="87" y="290" width="1" height="3" fill="#000"/>
<rect x="86" y="283" width="3" height="7" fill="#000"/>
<rect x="91" y="293" width="1" height="2" fill="#000"/>
<rect x="90" y="280" width="3" height="13" fill="#000"/>
<rect x="91" y="281" width="1" height="11" fill="#fff"/>
<rect x="95" y="271" width="1" height="3" fill="#000"/>
<rect x="95" y="279" width="1" height="2" fill="#000"/>
<rect x="94" y="274" width="3" height="5" fill="#000"/>
<rect x="95" y="275" width="1" height="3" fill="#fff"/>
<rect x="99" y="275" width="1" height="2" fill="#000"/>
<rect x="99" y="282" width="1" height="2" fill="#000"/>
<rect x="98" y="277" width="3" height="5" fill="#000"/>
<rect x="103" y="260" width="1" height="2" fill="#000"/>
<rect x="103" y="279" width="1" height="3" fill="#000"/>
<rect x="102" y="262" width="3" height="17" fill="#000"/>
<rect x="103" y="263" width="1" height="15" fill="#fff"/>
<rect x="107" y="262" width="1" height="3" fill="#000"/>
<rect x="106" y="265" width="3" height="4" fill="#000"/>
<rect x="111" y="257" width="1" height="8" fill="#000"/>
<rect x="111" y="266" width="1" height="3" fill="#000"/>
<rect x="110" y="265" width="3" height="1" fill="#000"/>
<rect x="115" y="251" width="1" height="11" fill="#000"/>
<rect x="115" y="263" width="1" height="3" fill="#000"/>
<rect x="114" y="262" width="3" height="1" fill="#000"/>
<rect x="119" y="228" width="1" height="6" fill="#000"/>
<rect x="119" y="266" width="1" height="3" fill="#000"/>
<rect x="118" y="234" width="3" height="32" fill="#000"/>
<rect x="119" y="235" width="1" height="30" fill="#fff"/>
<rect x="123" y="228" width="1" height="9" fill="#000"/>
<rect x="123" y="255" width="1" height="8" fill="#000"/>
<rect x="122" y="237" width="3" height="18" fill="#000"/>
<rect x="127" y="243" width="1" height="8" fill="#000"/>
<rect x="127" y="261" width="1" height="5" fill="#000"/>
<rect x="126" y="251" width="3" height="10" fill="#000"/>
<rect x="131" y="254" width="1" height="3" fill="#000"/>
<rect x="130" y="257" width="3" height="24" fill="#000"/>
<rect x="135" y="280" width="1" height="3" fill="#000"/>
<rect x="135" y="298" width="1" height="3" fill="#000"/>
<rect x="134" y="283" width="3" height="15" fill="#000"/>
<rect x="139" y="301" width="1" height="2" fill="#000"/>
<rect x="138" y="265" width="3" height="36" fill="#000"/>
<rect x="139" y="266" width="1" height="34" fill="#fff"/>
<rect x="143" y="238" width="1" height="2" fill="#000"/>
<rect x="142" y="240" width="3" height="29" fill="#000"/>
<rect x="143" y="241" width="1" height="27" fill="#fff"/>
<rect x="147" y="211" width="1" height="26" fill="#000"/>
<rect x="147" y="269" width="1" height="3" fill="#000"/>
<rect x="146" y="237" width="3" height="32" fill="#000"/>
<rect x="151" y="237" width="1" height="11" fill="#000"/>
<rect x="151" y="266" width="1" height="15" fill="#000"/>
<rect x="150" y="248" width="3" height="18" fill="#000"/>
<rect x="151" y="249" width="1" height="16" fill="#fff"/>
<rect x="155" y="240" width="1" height="5" fill="#000"/>
<rect x="155" y="253" width="1" height="5" fill="#000"/>
<rect x="154" y="245" width="3" height="8" fill="#000"/>
<rect x="159" y="237" width="1" height="11" fill="#000"/>
<rect x="159" y="249" width="1" height="9" fill="#000"/>
<rect x="158" y="248" width="3" height="1" fill="#000"/>
<rect x="163" y="284" width="1" height="1" fill="#000"/>
<rect x="163" y="294" width="1" height="5" fill="#000"/>
<rect x="162" y="285" width="3" height="9" fill="#000"/>
<rect x="167" y="304" width="1" height="4" fill="#000"/>
<rect x="166" y="300" width="3" height="4" fill="#000"/>
<rect x="171" y="300" width="1" height="6" fill="#000"/>
<rect x="171" y="308" width="1" height="3" fill="#000"/>
<rect x="170" y="306" width="3" height="2" fill="#000"/>
<rect x="175" y="303" width="1" height="3" fill="#000"/>
<rect x="174" y="306" width="3" height="5" fill="#000"/>
<rect x="179" y="308" width="1" height="1" fill="#000"/>
<rect x="178" y="288" width="3" height="20" fill="#000"/>
<rect x="179" y="289" width="1" height="18" fill="#fff"/>
<rect x="183" y="277" width="1" height="3" fill="#000"/>
<rect x="183" y="286" width="1" height="6" fill="#000"/>
<rect x="182" y="280" width="3" height="6" fill="#000"/>
<rect x="183" y="281" width="1" height="4" fill="#fff"/>
<rect x="187" y="261" width="1" height="4" fill="#000"/>
<rect x="186" y="265" width="3" height="13" fill="#000"/>
<rect x="187" y="266" width="1" height="11" fill="#fff"/>
<rect x="191" y="248" width="1" height="6" fill="#000"/>
<rect x="191" y="263" width="1" height="13" fill="#000"/>
<rect x="190" y="254" width="3" height="9" fill="#000"/>
<rect x="191" y="255" width="1" height="7" fill="#fff"/>
<rect x="195" y="234" width="1" height="9" fill="#000"/>
<rect x="195" y="258" width="1" height="5" fill="#000"/>
<rect x="194" y="243" width="3" height="15" fill="#000"/>
<rect x="195" y="244" width="1" height="13" fill="#fff"/>
<rect x="199" y="226" width="1" height="2" fill="#000"/>
<rect x="199" y="241" width="1" height="21" fill="#000"/>
<rect x="198" y="228" width="3" height="13" fill="#000"/>
<rect x="199" y="229" width="1" height="11" fill="#fff"/>
<rect x="203" y="214" width="1" height="12" fill="#000"/>
<rect x="203" y="229" width="1" height="6" fill="#000"/>
<rect x="202" y="226" width="3" height="3" fill="#000"/>
<rect x="207" y="214" width="1" height="9" fill="#000"/>
<rect x="207" y="226" width="1" height="6" fill="#000"/>
<rect x="206" y="223" width="3" height="3" fill="#000"/>
<rect x="207" y="224" width="1" height="1" fill="#fff"/>
<rect x="211" y="220" width="1" height="4" fill="#000"/>
<rect x="211" y="225" width="1" height="10" fill="#000"/>
<rect x="210" y="224" width="3" height="1" fill="#000"/>
<rect x="215" y="220" width="1" height="8" fill="#000"/>
<rect x="215" y="229" width="1" height="15" fill="#000"/>
<rect x="214" y="228" width="3" height="1" fill="#000"/>
<rect x="219" y="217" width="1" height="8" fill="#000"/>
<rect x="219" y="246" width="1" height="1" fill="#000"/>
<rect x="218" y="225" width="3" height="21" fill="#000"/>
<rect x="223" y="295" width="1" height="4" fill="#000"/>
<rect x="222" y="240" width="3" height="55" fill="#000"/>
<rect x="227" y="254" width="1" height="8" fill="#000"/>
<rect x="227" y="299" width="1" height="3" fill="#000"/>
<rect x="226" y="262" width="3" height="37" fill="#000"/>
<rect x="227" y="263" width="1" height="35" fill="#fff"/>
<rect x="231" y="243" width="1" height="2" fill="#000"/>
<rect x="231" y="262" width="1" height="1" fill="#000"/>
<rect x="230" y="245" width="3" height="17" fill="#000"/>
<rect x="231" y="246" width="1" height="15" fill="#fff"/>
<rect x="235" y="214" width="1" height="6" fill="#000"/>
<rect x="235" y="249" width="1" height="1" fill="#000"/>
<rect x="234" y="220" width="3" height="29" fill="#000"/>
<rect x="235" y="221" width="1" height="27" fill="#fff"/>
<rect x="239" y="214" width="1" height="8" fill="#000"/>
<rect x="238" y="222" width="3" height="14" fill="#000"/>
<rect x="243" y="217" width="1" height="8" fill="#000"/>
<rect x="243" y="233" width="1" height="3" fill="#000"/>
<rect x="242" y="225" width="3" height="8" fill="#000"/>
<rect x="243" y="226" width="1" height="6" fill="#fff"/>
<rect x="247" y="233" width="1" height="5" fill="#000"/>
<rect x="246" y="222" width="3" height="11" fill="#000"/>
<rect x="251" y="191" width="1" height="3" fill="#000"/>
<rect x="251" y="215" width="1" height="2" fill="#000"/>
<rect x="250" y="194" width="3" height="21" fill="#000"/>
<rect x="251" y="195" width="1" height="19" fill="#fff"/>
<rect x="255" y="186" width="1" height="5" fill="#000"/>
<rect x="255" y="198" width="1" height="8" fill="#000"/>
<rect x="254" y="191" width="3" height="7" fill="#000"/>
<rect x="255" y="192" width="1" height="5" fill="#fff"/>
<rect x="259" y="183" width="1" height="4" fill="#000"/>
<rect x="259" y="188" width="1" height="14" fill="#000"/>
<rect x="258" y="187" width="3" height="1" fill="#000"/>
<rect x="263" y="154" width="1" height="8" fill="#000"/>
<rect x="262" y="162" width="3" height="30" fill="#000"/>
<rect x="263" y="163" width="1" height="28" fill="#fff"/>
<rect x="267" y="128" width="1" height="3" fill="#000"/>
<rect x="267" y="167" width="1" height="3" fill="#000"/>
<rect x="266" y="131" width="3" height="36" fill="#000"/>
<rect x="267" y="132" width="1" height="34" fill="#fff"/>
<rect x="271" y="125" width="1" height="3" fill="#000"/>
<rect x="271" y="144" width="1" height="3" fill="#000"/>
<rect x="270" y="128" width="3" height="16" fill="#000"/>
<rect x="274" y="140" width="3" height="15" fill="#000"/>
<rect x="279" y="137" width="1" height="14" fill="#000"/>
<rect x="278" y="151" width="3" height="19" fill="#000"/>
<rect x="283" y="151" width="1" height="6" fill="#000"/>
<rect x="283" y="167" width="1" height="3" fill="#000"/>
<rect x="282" y="157" width="3" height="10" fill="#000"/>
<rect x="283" y="158" width="1" height="8" fill="#fff"/>
<rect x="287" y="148" width="1" height="9" fill="#000"/>
<rect x="287" y="162" width="1" height="22" fill="#000"/>
<rect x="286" y="157" width="3" height="5" fill="#000"/>
<rect x="287" y="158" width="1" height="3" fill="#fff"/>
<rect x="291" y="137" width="1" height="20" fill="#000"/>
<rect x="291" y="162" width="1" height="5" fill="#000"/>
<rect x="290" y="157" width="3" height="5" fill="#000"/>
<rect x="291" y="158" width="1" height="3" fill="#fff"/>
<rect x="295" y="154" width="1" height="6" fill="#000"/>
<rect x="294" y="160" width="3" height="27" fill="#000"/>
<rect x="299" y="168" width="1" height="3" fill="#000"/>
<rect x="299" y="184" width="1" height="6" fill="#000"/>
<rect x="298" y="171" width="3" height="13" fill="#000"/>
<rect x="299" y="172" width="1" height="11" fill="#fff"/>
<rect x="303" y="148" width="1" height="2" fill="#000"/>
<rect x="303" y="170" width="1" height="17" fill="#000"/>
<rect x="302" y="150" width="3" height="20" fill="#000"/>
<rect x="303" y="151" width="1" height="18" fill="#fff"/>
<rect x="307" y="108" width="1" height="37" fill="#000"/>
<rect x="307" y="150" width="1" height="2" fill="#000"/>
<rect x="306" y="145" width="3" height="5" fill="#000"/>
<rect x="307" y="146" width="1" height="3" fill="#fff"/>
<rect x="311" y="143" width="1" height="5" fill="#000"/>
<rect x="310" y="148" width="3" height="27" fill="#000"/>
<rect x="315" y="223" width="1" height="1" fill="#000"/>
<rect x="314" y="171" width="3" height="52" fill="#000"/>
<rect x="319" y="223" width="1" height="2" fill="#000"/>
<rect x="319" y="252" width="1" height="4" fill="#000"/>
<rect x="318" y="225" width="3" height="27" fill="#000"/>
<rect x="323" y="240" width="1" height="8" fill="#000"/>
<rect x="323" y="253" width="1" height="11" fill="#000"/>
<rect x="322" y="248" width="3" height="5" fill="#000"/>
<rect x="326" y="248" width="3" height="27" fill="#000"/>
<rect x="331" y="268" width="1" height="3" fill="#000"/>
<rect x="331" y="279" width="1" height="5" fill="#000"/>
<rect x="330" y="271" width="3" height="8" fill="#000"/>
<rect x="335" y="268" width="1" height="3" fill="#000"/>
<rect x="334" y="271" width="3" height="11" fill="#000"/>
<rect x="335" y="272" width="1" height="9" fill="#fff"/>
<rect x="339" y="260" width="1" height="2" fill="#000"/>
<rect x="339" y="265" width="1" height="4" fill="#000"/>
<rect x="338" y="262" width="3" height="3" fill="#000"/>
<rect x="339" y="263" width="1" height="1" fill="#fff"/>
<rect x="343" y="259" width="1" height="3" fill="#000"/>
<rect x="342" y="251" width="3" height="8" fill="#000"/>
<rect x="343" y="252" width="1" height="6" fill="#fff"/>
<rect x="347" y="233" width="1" height="4" fill="#000"/>
<rect x="346" y="237" width="3" height="15" fill="#000"/>
<rect x="351" y="240" width="1" height="8" fill="#000"/>
<rect x="350" y="248" width="3" height="21" fill="#000"/>
<rect x="355" y="263" width="1" height="8" fill="#000"/>
<rect x="355" y="295" width="1" height="3" fill="#000"/>
<rect x="354" y="271" width="3" height="24" fill="#000"/>
<rect x="359" y="284" width="1" height="4" fill="#000"/>
<rect x="358" y="288" width="3" height="10" fill="#000"/>
<rect x="359" y="289" width="1" height="8" fill="#fff"/>
<rect x="363" y="281" width="1" height="5" fill="#000"/>
<rect x="363" y="292" width="1" height="3" fill="#000"/>
<rect x="362" y="286" width="3" height="6" fill="#000"/>
<rect x="363" y="287" width="1" height="4" fill="#fff"/>
<rect x="367" y="274" width="1" height="3" fill="#000"/>
<rect x="367" y="289" width="1" height="6" fill="#000"/>
<rect x="366" y="277" width="3" height="12" fill="#000"/>
<rect x="367" y="278" width="1" height="10" fill="#fff"/>
<rect x="371" y="274" width="1" height="6" fill="#000"/>
<rect x="371" y="293" width="1" height="2" fill="#000"/>
<rect x="370" y="280" width="3" height="13" fill="#000"/>
<rect x="375" y="274" width="1" height="7" fill="#000"/>
<rect x="375" y="295" width="1" height="14" fill="#000"/>
<rect x="374" y="281" width="3" height="14" fill="#000"/>
<rect x="375" y="282" width="1" height="12" fill="#fff"/>
<rect x="379" y="275" width="1" height="2" fill="#000"/>
<rect x="379" y="278" width="1" height="26" fill="#000"/>
<rect x="378" y="277" width="3" height="1" fill="#000"/>
<rect x="383" y="237" width="1" height="11" fill="#000"/>
<rect x="382" y="248" width="3" height="33" fill="#000"/>
<rect x="383" y="249" width="1" height="31" fill="#fff"/>
<rect x="387" y="240" width="1" height="7" fill="#000"/>
<rect x="387" y="248" width="1" height="8" fill="#000"/>
<rect x="386" y="247" width="3" height="1" fill="#000"/>
<rect x="391" y="225" width="1" height="3" fill="#000"/>
<rect x="390" y="228" width="3" height="16" fill="#000"/>
<rect x="391" y="229" width="1" height="14" fill="#fff"/>
<rect x="395" y="208" width="1" height="10" fill="#000"/>
<rect x="395" y="232" width="1" height="15" fill="#000"/>
<rect x="394" y="218" width="3" height="14" fill="#000"/>
<rect x="395" y="219" width="1" height="12" fill="#fff"/>
<rect x="399" y="208" width="1" height="7" fill="#000"/>
<rect x="399" y="242" width="1" height="1" fill="#000"/>
<rect x="398" y="215" width="3" height="27" fill="#000"/>
<rect x="403" y="220" width="1" height="21" fill="#000"/>
<rect x="403" y="242" width="1" height="17" fill="#000"/>
<rect x="402" y="241" width="3" height="1" fill="#000"/>
<rect x="407" y="177" width="1" height="24" fill="#000"/>
<rect x="406" y="201" width="3" height="37" fill="#000"/>
<rect x="407" y="202" width="1" height="35" fill="#fff"/>
<rect x="411" y="177" width="1" height="6" fill="#000"/>
<rect x="411" y="206" width="1" height="1" fill="#000"/>
<rect x="410" y="183" width="3" height="23" fill="#000"/>
<rect x="411" y="184" width="1" height="21" fill="#fff"/>
<rect x="415" y="181" width="1" height="4" fill="#000"/>
<rect x="414" y="185" width="3" height="25" fill="#000"/>
<rect x="419" y="183" width="1" height="2" fill="#000"/>
<rect x="418" y="185" width="3" height="27" fill="#000"/>
<rect x="419" y="186" width="1" height="25" fill="#fff"/>
<rect x="423" y="174" width="1" height="9" fill="#000"/>
<rect x="422" y="183" width="3" height="6" fill="#000"/>
<rect x="427" y="191" width="1" height="8" fill="#000"/>
<rect x="426" y="183" width="3" height="8" fill="#000"/>
<rect x="427" y="184" width="1" height="6" fill="#fff"/>
<rect x="431" y="177" width="1" height="4" fill="#000"/>
<rect x="431" y="185" width="1" height="2" fill="#000"/>
<rect x="430" y="181" width="3" height="4" fill="#000"/>
<rect x="435" y="181" width="1" height="2" fill="#000"/>
<rect x="435" y="186" width="1" height="1" fill="#000"/>
<rect x="434" y="183" width="3" height="3" fill="#000"/>
<rect x="435" y="184" width="1" height="1" fill="#fff"/>
<rect x="439" y="186" width="1" height="2" fill="#000"/>
<rect x="439" y="189" width="1" height="3" fill="#000"/>
<rect x="438" y="188" width="3" height="1" fill="#000"/>
<rect x="443" y="183" width="1" height="8" fill="#000"/>
<rect x="443" y="195" width="1" height="9" fill="#000"/>
<rect x="442" y="191" width="3" height="4" fill="#000"/>
<rect x="447" y="194" width="1" height="3" fill="#000"/>
<rect x="447" y="198" width="1" height="12" fill="#000"/>
<rect x="446" y="197" width="3" height="1" fill="#000"/>
<rect x="451" y="200" width="1" height="1" fill="#000"/>
<rect x="451" y="207" width="1" height="3" fill="#000"/>
<rect x="450" y="201" width="3" height="6" fill="#000"/>
<rect x="455" y="190" width="1" height="1" fill="#000"/>
<rect x="455" y="210" width="1" height="2" fill="#000"/>
<rect x="454" y="191" width="3" height="19" fill="#000"/>
<rect x="455" y="192" width="1" height="17" fill="#fff"/>
<rect x="459" y="191" width="1" height="3" fill="#000"/>
<rect x="459" y="202" width="1" height="2" fill="#000"/>
<rect x="458" y="194" width="3" height="8" fill="#000"/>
<rect x="463" y="198" width="1" height="5" fill="#000"/>
<rect x="463" y="209" width="1" height="3" fill="#000"/>
<rect x="462" y="203" width="3" height="6" fill="#000"/>
<rect x="467" y="165" width="1" height="6" fill="#000"/>
<rect x="467" y="207" width="1" height="5" fill="#000"/>
<rect x="466" y="171" width="3" height="36" fill="#000"/>
<rect x="467" y="172" width="1" height="34" fill="#fff"/>
<rect x="471" y="157" width="1" height="17" fill="#000"/>
<rect x="471" y="181" width="1" height="4" fill="#000"/>
<rect x="470" y="174" width="3" height="7" fill="#000"/>
<rect x="475" y="171" width="1" height="9" fill="#000"/>
<rect x="474" y="180" width="3" height="4" fill="#000"/>
<rect x="475" y="181" width="1" height="2" fill="#fff"/>
<rect x="479" y="190" width="1" height="12" fill="#000"/>
<rect x="478" y="177" width="3" height="13" fill="#000"/>
<rect x="483" y="179" width="1" height="6" fill="#000"/>
<rect x="483" y="190" width="1" height="8" fill="#000"/>
<rect x="482" y="185" width="3" height="5" fill="#000"/>
<rect x="487" y="174" width="1" height="11" fill="#000"/>
<rect x="487" y="193" width="1" height="2" fill="#000"/>
<rect x="486" y="185" width="3" height="8" fill="#000"/>
<rect x="487" y="186" width="1" height="6" fill="#fff"/>
<rect x="491" y="174" width="1" height="9" fill="#000"/>
<rect x="491" y="202" width="1" height="2" fill="#000"/>
<rect x="490" y="183" width="3" height="19" fill="#000"/>
<rect x="495" y="185" width="1" height="12" fill="#000"/>
<rect x="495" y="207" width="1" height="2" fill="#000"/>
<rect x="494" y="197" width="3" height="10" fill="#000"/>
<rect x="499" y="162" width="1" height="21" fill="#000"/>
<rect x="498" y="183" width="3" height="24" fill="#000"/>
<rect x="499" y="184" width="1" height="22" fill="#fff"/>
<rect x="503" y="162" width="1" height="12" fill="#000"/>
<rect x="503" y="187" width="1" height="2" fill="#000"/>
<rect x="502" y="174" width="3" height="13" fill="#000"/>
<rect x="503" y="175" width="1" height="11" fill="#fff"/>
<rect x="507" y="171" width="1" height="3" fill="#000"/>
<rect x="507" y="179" width="1" height="10" fill="#000"/>
<rect x="506" y="174" width="3" height="5" fill="#000"/>
<rect x="507" y="175" width="1" height="3" fill="#fff"/>
<rect x="511" y="160" width="1" height="2" fill="#000"/>
<rect x="511" y="172" width="1" height="9" fill="#000"/>
<rect x="510" y="162" width="3" height="10" fill="#000"/>
<rect x="511" y="163" width="1" height="8" fill="#fff"/>
<rect x="515" y="151" width="1" height="10" fill="#000"/>
<rect x="514" y="161" width="3" height="6" fill="#000"/>
<rect x="515" y="162" width="1" height="4" fill="#fff"/>
<rect x="519" y="150" width="1" height="1" fill="#000"/>
<rect x="519" y="159" width="1" height="5" fill="#000"/>
<rect x="518" y="151" width="3" height="8" fill="#000"/>
<rect x="519" y="152" width="1" height="6" fill="#fff"/>
<rect x="523" y="140" width="1" height="3" fill="#000"/>
<rect x="523" y="149" width="1" height="3" fill="#000"/>
<rect x="522" y="143" width="3" height="6" fill="#000"/>
<rect x="523" y="144" width="1" height="4" fill="#fff"/>
<rect x="526" y="146" width="3" height="3" fill="#000"/>
<rect x="527" y="147" width="1" height="1" fill="#fff"/>
<rect x="531" y="145" width="1" height="2" fill="#000"/>
<rect x="530" y="144" width="3" height="1" fill="#000"/>
<rect x="535" y="134" width="1" height="3" fill="#000"/>
<rect x="535" y="145" width="1" height="4" fill="#000"/>
<rect x="534" y="137" width="3" height="8" fill="#000"/>
<rect x="535" y="138" width="1" height="6" fill="#fff"/>
<rect x="539" y="131" width="1" height="9" fill="#000"/>
<rect x="538" y="140" width="3" height="9" fill="#000"/>
<rect x="543" y="153" width="1" height="9" fill="#000"/>
<rect x="542" y="152" width="3" height="1" fill="#000"/>
<rect x="547" y="152" width="1" height="3" fill="#000"/>
<rect x="546" y="148" width="3" height="4" fill="#000"/>
<rect x="551" y="146" width="1" height="2" fill="#000"/>
<rect x="551" y="155" width="1" height="4" fill="#000"/>
<rect x="550" y="148" width="3" height="7" fill="#000"/>
<rect x="555" y="143" width="1" height="8" fill="#000"/>
<rect x="555" y="155" width="1" height="4" fill="#000"/>
<rect x="554" y="151" width="3" height="4" fill="#000"/>
<rect x="559" y="143" width="1" height="2" fill="#000"/>
<rect x="558" y="145" width="3" height="14" fill="#000"/>
<rect x="559" y="146" width="1" height="12" fill="#fff"/>
<rect x="563" y="120" width="1" height="2" fill="#000"/>
<rect x="563" y="145" width="1" height="2" fill="#000"/>
<rect x="562" y="122" width="3" height="23" fill="#000"/>
<rect x="563" y="123" width="1" height="21" fill="#fff"/>
<rect x="567" y="117" width="1" height="3" fill="#000"/>
<rect x="567" y="132" width="1" height="3" fill="#000"/>
<rect x="566" y="120" width="3" height="12" fill="#000"/>
<rect x="571" y="131" width="1" height="3" fill="#000"/>
<rect x="570" y="134" width="3" height="13" fill="#000"/>
<rect x="575" y="135" width="1" height="5" fill="#000"/>
<rect x="575" y="144" width="1" height="5" fill="#000"/>
<rect x="574" y="140" width="3" height="4" fill="#000"/>
<rect x="575" y="141" width="1" height="2" fill="#fff"/>
<rect x="579" y="125" width="1" height="6" fill="#000"/>
<rect x="579" y="138" width="1" height="3" fill="#000"/>
<rect x="578" y="131" width="3" height="7" fill="#000"/>
<rect x="579" y="132" width="1" height="5" fill="#fff"/>
<rect x="583" y="97" width="1" height="8" fill="#000"/>
<rect x="583" y="135" width="1" height="9" fill="#000"/>
<rect x="582" y="105" width="3" height="30" fill="#000"/>
<rect x="583" y="106" width="1" height="28" fill="#fff"/>
<rect x="587" y="88" width="1" height="15" fill="#000"/>
<rect x="586" y="103" width="3" height="9" fill="#000"/>
<rect x="591" y="103" width="1" height="5" fill="#000"/>
<rect x="591" y="122" width="1" height="10" fill="#000"/>
<rect x="590" y="108" width="3" height="14" fill="#000"/>
<rect x="595" y="88" width="1" height="9" fill="#000"/>
<rect x="595" y="119" width="1" height="3" fill="#000"/>
<rect x="594" y="97" width="3" height="22" fill="#000"/>
<rect x="595" y="98" width="1" height="20" fill="#fff"/>
<rect x="599" y="77" width="1" height="14" fill="#000"/>
<rect x="599" y="95" width="1" height="6" fill="#000"/>
<rect x="598" y="91" width="3" height="4" fill="#000"/>
<rect x="599" y="92" width="1" height="2" fill="#fff"/>
<rect x="603" y="96" width="1" height="3" fill="#000"/>
<rect x="602" y="77" width="3" height="19" fill="#000"/>
<rect x="603" y="78" width="1" height="17" fill="#fff"/>
<rect x="606" y="74" width="3" height="16" fill="#000"/>
<rect x="611" y="92" width="1" height="6" fill="#000"/>
<rect x="610" y="85" width="3" height="7" fill="#000"/>
<rect x="615" y="110" width="1" height="6" fill="#000"/>
<rect x="614" y="88" width="3" height="22" fill="#000"/>
<rect x="619" y="103" width="1" height="2" fill="#000"/>
<rect x="619" y="112" width="1" height="7" fill="#000"/>
<rect x="618" y="105" width="3" height="7" fill="#000"/>
<rect x="623" y="95" width="1" height="3" fill="#000"/>
<rect x="622" y="91" width="3" height="4" fill="#000"/>
<rect x="623" y="92" width="1" height="2" fill="#fff"/>
<rect x="627" y="89" width="1" height="9" fill="#000"/>
<rect x="626" y="77" width="3" height="12" fill="#000"/>
<rect x="627" y="78" width="1" height="10" fill="#fff"/>
<rect x="631" y="71" width="1" height="9" fill="#000"/>
<rect x="631" y="86" width="1" height="3" fill="#000"/>
<rect x="630" y="80" width="3" height="6" fill="#000"/>
<rect x="635" y="85" width="1" height="3" fill="#000"/>
<rect x="635" y="89" width="1" height="6" fill="#000"/>
<rect x="634" y="88" width="3" height="1" fill="#000"/>
<rect x="639" y="80" width="1" height="5" fill="#000"/>
<rect x="638" y="85" width="3" height="7" fill="#000"/>
<rect x="639" y="86" width="1" height="5" fill="#fff"/>
<rect x="643" y="74" width="1" height="3" fill="#000"/>
<rect x="642" y="77" width="3" height="12" fill="#000"/>
<rect x="643" y="78" width="1" height="10" fill="#fff"/>
<rect x="647" y="75" width="1" height="6" fill="#000"/>
<rect x="646" y="72" width="3" height="3" fill="#000"/>
<rect x="647" y="73" width="1" height="1" fill="#fff"/>
<rect x="651" y="51" width="1" height="23" fill="#000"/>
<rect x="650" y="74" width="3" height="1" fill="#000"/>
<rect x="655" y="51" width="1" height="11" fill="#000"/>
<rect x="655" y="72" width="1" height="9" fill="#000"/>
<rect x="654" y="62" width="3" height="10" fill="#000"/>
<rect x="655" y="63" width="1" height="8" fill="#fff"/>
<rect x="659" y="66" width="1" height="6" fill="#000"/>
<rect x="658" y="51" width="3" height="15" fill="#000"/>
<rect x="659" y="52" width="1" height="13" fill="#fff"/>
<rect x="663" y="42" width="1" height="12" fill="#000"/>
<rect x="662" y="54" width="3" height="7" fill="#000"/>
<rect x="667" y="51" width="1" height="6" fill="#000"/>
<rect x="667" y="61" width="1" height="2" fill="#000"/>
<rect x="666" y="57" width="3" height="4" fill="#000"/>
<rect x="0" y="22" width="846" height="1" fill="#708090"/>
<rect x="0" y="133" width="846" height="1" fill="#708090"/>
<rect x="0" y="161" width="846" height="1" fill="#708090"/>
<rect x="0" y="201" width="846" height="1" fill="#708090"/>
<rect x="0" y="298" width="846" height="1" fill="#708090"/>
<rect x="0" y="388" width="846" height="1" fill="#708090"/>
<rect x="0" y="60" width="846" height="1" fill="#c0c0c0"/>
</g>
<g shape-rendering="crispEdges">
<polyline points="0.0,313.0 16.0,315.0 32.0,317.5 48.0,318.6 64.0,318.6 79.0,316.7 89.0,316.0 100.0,315.3 105.0,314.0 110.0,312.3 117.0,311.5 122.0,311.0 127.0,310.0 130.0,309.5 137.0,308.0 140.0,307.0 148.0,306.0 155.9,305.2 171.8,303.6 187.7,302.8 203.6,299.6 219.5,297.2 230.0,293.7 240.0,292.0 250.0,289.4 260.0,286.3 267.1,283.7 275.0,279.0 280.0,277.3 285.0,274.3 290.0,272.2 295.0,270.4 300.0,269.3 304.0,267.5 309.0,265.6 320.0,265.6 340.0,265.6 350.0,265.0 360.0,265.6 370.0,265.8 377.0,266.6 385.0,266.0 390.0,265.5 397.0,264.3 410.0,262.4 425.0,259.5 440.0,256.0 445.0,254.0 455.0,252.5 465.0,250.6 475.0,248.6 485.0,246.6 495.0,244.4 505.0,241.7 515.0,239.6 527.0,235.8 535.0,233.6 545.0,230.2 555.0,227.8 565.0,225.4 575.0,222.5 585.0,219.7 595.0,215.0 605.0,210.8 615.0,207.2 625.0,203.5 635.0,199.0 645.0,194.8 655.0,190.0 665.0,185.6 668.0,184.4" fill="none" stroke="#00fa9a" stroke-width="3" stroke-linejoin="round" stroke-linecap="butt" />
<polyline points="0.0,289.7 16.0,291.6 32.0,295.0 48.0,296.6 64.0,297.0 79.0,297.0 95.0,296.6 100.0,296.6 105.0,296.3 111.0,295.5 117.0,294.8 121.0,294.5 126.0,293.7 132.0,293.5 140.0,293.2 145.0,292.5 150.0,292.0 153.0,291.5 155.9,291.2 171.8,291.2 179.7,292.0 187.7,291.2 200.0,290.6 210.0,288.8 219.5,287.4 227.4,287.2 243.3,285.3 251.2,283.7 259.2,282.1 267.1,279.0 270.0,277.6 285.9,273.4 300.0,269.3 305.0,267.5 310.0,266.4 320.0,266.4 330.0,266.3 340.0,266.3 350.0,265.8 360.0,266.4 370.0,266.4 377.0,267.2 385.0,266.5 393.0,266.3 410.0,263.2 425.0,260.8 440.0,258.3 445.0,257.5 455.0,256.2 465.0,254.5 475.0,253.0 485.0,251.5 495.0,250.4 505.0,248.2 515.0,246.1 527.0,243.1 535.0,241.3 545.0,238.8 555.0,236.8 565.0,234.3 575.0,232.3 585.0,229.5 595.0,226.0 605.0,222.2 615.0,219.2 625.0,215.9 635.0,213.0 645.0,210.2 655.0,206.9 665.0,203.5 668.0,202.0" fill="none" stroke="#ff0000" stroke-width="3" stroke-linejoin="round" stroke-linecap="butt" />
<polyline points="0.0,344.5 10.0,344.9 19.0,345.8 29.0,346.4 38.0,346.2 44.0,345.8 52.0,343.9 62.0,341.6 71.0,337.2 81.0,332.4 90.0,327.5 100.0,323.7 110.0,318.9 119.0,313.1 129.0,309.3 140.0,303.6 155.9,295.6 171.8,294.8 179.7,295.5 190.0,293.8 200.0,289.0 210.0,284.3 220.0,277.8 230.0,276.0 240.0,272.0 250.0,267.7 256.0,263.5 262.0,257.0 269.7,248.3 277.6,242.8 285.6,237.2 293.5,230.8 301.5,226.1 306.0,222.5 310.0,220.2 313.0,219.5 317.0,219.5 320.0,220.8 325.3,223.7 333.2,226.9 341.2,229.3 349.1,231.7 357.1,235.6 365.0,239.6 369.8,242.0 373.3,243.7 381.2,246.1 389.2,245.3 397.1,243.2 400.0,243.2 418.3,235.0 436.7,227.7 440.0,225.5 450.0,223.0 460.0,220.9 470.0,218.0 480.0,215.5 490.0,212.4 497.0,211.7 500.0,210.5 510.0,206.9 520.0,202.3 530.0,196.8 540.0,191.2 550.0,187.0 560.0,183.4 570.0,179.7 580.0,174.6 585.0,171.5 595.0,164.7 605.0,158.4 615.0,153.8 625.0,149.0 630.0,145.5 640.0,137.8 650.0,131.1 660.0,125.1 667.0,120.5" fill="none" stroke="#00ffff" stroke-width="3" stroke-linejoin="round" stroke-linecap="butt" />
</g>
<circle cx="663" cy="47.3" r="3.8" fill="none" stroke="#ff0000" stroke-width="1"/>
<circle cx="663" cy="47" r="1.3" fill="#ff0000"/>
<g shape-rendering="crispEdges">
<rect x="0" y="185" width="69" height="1" fill="#000"/>
<rect x="69" y="184" width="72" height="1" fill="#000"/>
<rect x="141" y="183" width="68" height="1" fill="#000"/>
<rect x="209" y="182" width="72" height="1" fill="#000"/>
<rect x="281" y="181" width="72" height="1" fill="#000"/>
<rect x="353" y="180" width="72" height="1" fill="#000"/>
<rect x="425" y="179" width="72" height="1" fill="#000"/>
<rect x="497" y="178" width="73" height="1" fill="#000"/>
<rect x="570" y="177" width="71" height="1" fill="#000"/>
<rect x="641" y="176" width="27" height="1" fill="#000"/>
<rect x="0" y="186" width="1" height="1" fill="#00ff00"/>
<rect x="1" y="186" width="1" height="1" fill="#00ff00"/>
<rect x="2" y="186" width="1" height="1" fill="#00ff00"/>
<rect x="6" y="186" width="1" height="1" fill="#00ff00"/>
<rect x="7" y="186" width="1" height="1" fill="#00ff00"/>
<rect x="8" y="186" width="1" height="1" fill="#00ff00"/>
<rect x="12" y="186" width="1" height="1" fill="#00ff00"/>
<rect x="13" y="186" width="1" height="1" fill="#00ff00"/>
<rect x="14" y="186" width="1" height="1" fill="#00ff00"/>
<rect x="18" y="186" width="1" height="1" fill="#00ff00"/>
<rect x="19" y="186" width="1" height="1" fill="#00ff00"/>
<rect x="20" y="186" width="1" height="1" fill="#00ff00"/>
<rect x="24" y="186" width="1" height="1" fill="#00ff00"/>
<rect x="25" y="186" width="1" height="1" fill="#00ff00"/>
<rect x="26" y="186" width="1" height="1" fill="#00ff00"/>
<rect x="30" y="186" width="1" height="1" fill="#00ff00"/>
<rect x="31" y="186" width="1" height="1" fill="#00ff00"/>
<rect x="32" y="186" width="1" height="1" fill="#00ff00"/>
<rect x="36" y="185" width="1" height="1" fill="#00ff00"/>
<rect x="37" y="185" width="1" height="1" fill="#00ff00"/>
<rect x="38" y="185" width="1" height="1" fill="#00ff00"/>
<rect x="42" y="185" width="1" height="1" fill="#00ff00"/>
<rect x="43" y="185" width="1" height="1" fill="#00ff00"/>
<rect x="44" y="185" width="1" height="1" fill="#00ff00"/>
<rect x="48" y="185" width="1" height="1" fill="#00ff00"/>
<rect x="49" y="185" width="1" height="1" fill="#00ff00"/>
<rect x="50" y="185" width="1" height="1" fill="#00ff00"/>
<rect x="54" y="185" width="1" height="1" fill="#00ff00"/>
<rect x="55" y="185" width="1" height="1" fill="#00ff00"/>
<rect x="56" y="185" width="1" height="1" fill="#00ff00"/>
<rect x="60" y="185" width="1" height="1" fill="#00ff00"/>
<rect x="61" y="185" width="1" height="1" fill="#00ff00"/>
<rect x="62" y="185" width="1" height="1" fill="#00ff00"/>
<rect x="66" y="185" width="1" height="1" fill="#00ff00"/>
<rect x="67" y="185" width="1" height="1" fill="#00ff00"/>
<rect x="68" y="185" width="1" height="1" fill="#00ff00"/>
<rect x="72" y="185" width="1" height="1" fill="#00ff00"/>
<rect x="73" y="185" width="1" height="1" fill="#00ff00"/>
<rect x="74" y="185" width="1" height="1" fill="#00ff00"/>
<rect x="78" y="185" width="1" height="1" fill="#00ff00"/>
<rect x="79" y="185" width="1" height="1" fill="#00ff00"/>
<rect x="80" y="185" width="1" height="1" fill="#00ff00"/>
<rect x="84" y="185" width="1" height="1" fill="#00ff00"/>
<rect x="85" y="185" width="1" height="1" fill="#00ff00"/>
<rect x="86" y="185" width="1" height="1" fill="#00ff00"/>
<rect x="90" y="185" width="1" height="1" fill="#00ff00"/>
<rect x="91" y="185" width="1" height="1" fill="#00ff00"/>
<rect x="92" y="185" width="1" height="1" fill="#00ff00"/>
<rect x="96" y="185" width="1" height="1" fill="#00ff00"/>
<rect x="97" y="185" width="1" height="1" fill="#00ff00"/>
<rect x="98" y="185" width="1" height="1" fill="#00ff00"/>
<rect x="102" y="185" width="1" height="1" fill="#00ff00"/>
<rect x="103" y="185" width="1" height="1" fill="#00ff00"/>
<rect x="104" y="185" width="1" height="1" fill="#00ff00"/>
<rect x="108" y="184" width="1" height="1" fill="#00ff00"/>
<rect x="109" y="184" width="1" height="1" fill="#00ff00"/>
<rect x="110" y="184" width="1" height="1" fill="#00ff00"/>
<rect x="114" y="184" width="1" height="1" fill="#00ff00"/>
<rect x="115" y="184" width="1" height="1" fill="#00ff00"/>
<rect x="116" y="184" width="1" height="1" fill="#00ff00"/>
<rect x="120" y="184" width="1" height="1" fill="#00ff00"/>
<rect x="121" y="184" width="1" height="1" fill="#00ff00"/>
<rect x="122" y="184" width="1" height="1" fill="#00ff00"/>
<rect x="126" y="184" width="1" height="1" fill="#00ff00"/>
<rect x="127" y="184" width="1" height="1" fill="#00ff00"/>
<rect x="128" y="184" width="1" height="1" fill="#00ff00"/>
<rect x="132" y="184" width="1" height="1" fill="#00ff00"/>
<rect x="133" y="184" width="1" height="1" fill="#00ff00"/>
<rect x="134" y="184" width="1" height="1" fill="#00ff00"/>
<rect x="138" y="184" width="1" height="1" fill="#00ff00"/>
<rect x="139" y="184" width="1" height="1" fill="#00ff00"/>
<rect x="140" y="184" width="1" height="1" fill="#00ff00"/>
<rect x="144" y="184" width="1" height="1" fill="#00ff00"/>
<rect x="145" y="184" width="1" height="1" fill="#00ff00"/>
<rect x="146" y="184" width="1" height="1" fill="#00ff00"/>
<rect x="150" y="184" width="1" height="1" fill="#00ff00"/>
<rect x="151" y="184" width="1" height="1" fill="#00ff00"/>
<rect x="152" y="184" width="1" height="1" fill="#00ff00"/>
<rect x="156" y="184" width="1" height="1" fill="#00ff00"/>
<rect x="157" y="184" width="1" height="1" fill="#00ff00"/>
<rect x="158" y="184" width="1" height="1" fill="#00ff00"/>
<rect x="162" y="184" width="1" height="1" fill="#00ff00"/>
<rect x="163" y="184" width="1" height="1" fill="#00ff00"/>
<rect x="164" y="184" width="1" height="1" fill="#00ff00"/>
<rect x="168" y="184" width="1" height="1" fill="#00ff00"/>
<rect x="169" y="184" width="1" height="1" fill="#00ff00"/>
<rect x="170" y="184" width="1" height="1" fill="#00ff00"/>
<rect x="174" y="184" width="1" height="1" fill="#00ff00"/>
<rect x="175" y="184" width="1" height="1" fill="#00ff00"/>
<rect x="176" y="183" width="1" height="1" fill="#00ff00"/>
<rect x="180" y="183" width="1" height="1" fill="#00ff00"/>
<rect x="181" y="183" width="1" height="1" fill="#00ff00"/>
<rect x="182" y="183" width="1" height="1" fill="#00ff00"/>
<rect x="186" y="183" width="1" height="1" fill="#00ff00"/>
<rect x="187" y="183" width="1" height="1" fill="#00ff00"/>
<rect x="188" y="183" width="1" height="1" fill="#00ff00"/>
<rect x="192" y="183" width="1" height="1" fill="#00ff00"/>
<rect x="193" y="183" width="1" height="1" fill="#00ff00"/>
<rect x="194" y="183" width="1" height="1" fill="#00ff00"/>
<rect x="198" y="183" width="1" height="1" fill="#00ff00"/>
<rect x="199" y="183" width="1" height="1" fill="#00ff00"/>
<rect x="200" y="183" width="1" height="1" fill="#00ff00"/>
<rect x="204" y="183" width="1" height="1" fill="#00ff00"/>
<rect x="205" y="183" width="1" height="1" fill="#00ff00"/>
<rect x="206" y="183" width="1" height="1" fill="#00ff00"/>
<rect x="210" y="183" width="1" height="1" fill="#00ff00"/>
<rect x="211" y="183" width="1" height="1" fill="#00ff00"/>
<rect x="212" y="183" width="1" height="1" fill="#00ff00"/>
<rect x="216" y="183" width="1" height="1" fill="#00ff00"/>
<rect x="217" y="183" width="1" height="1" fill="#00ff00"/>
<rect x="218" y="183" width="1" height="1" fill="#00ff00"/>
<rect x="222" y="183" width="1" height="1" fill="#00ff00"/>
<rect x="223" y="183" width="1" height="1" fill="#00ff00"/>
<rect x="224" y="183" width="1" height="1" fill="#00ff00"/>
<rect x="228" y="183" width="1" height="1" fill="#00ff00"/>
<rect x="229" y="183" width="1" height="1" fill="#00ff00"/>
<rect x="230" y="183" width="1" height="1" fill="#00ff00"/>
<rect x="234" y="183" width="1" height="1" fill="#00ff00"/>
<rect x="235" y="183" width="1" height="1" fill="#00ff00"/>
<rect x="236" y="183" width="1" height="1" fill="#00ff00"/>
<rect x="240" y="183" width="1" height="1" fill="#00ff00"/>
<rect x="241" y="183" width="1" height="1" fill="#00ff00"/>
<rect x="242" y="183" width="1" height="1" fill="#00ff00"/>
<rect x="246" y="183" width="1" height="1" fill="#00ff00"/>
<rect x="247" y="182" width="1" height="1" fill="#00ff00"/>
<rect x="248" y="182" width="1" height="1" fill="#00ff00"/>
<rect x="252" y="182" width="1" height="1" fill="#00ff00"/>
<rect x="253" y="182" width="1" height="1" fill="#00ff00"/>
<rect x="254" y="182" width="1" height="1" fill="#00ff00"/>
<rect x="258" y="182" width="1" height="1" fill="#00ff00"/>
<rect x="259" y="182" width="1" height="1" fill="#00ff00"/>
<rect x="260" y="182" width="1" height="1" fill="#00ff00"/>
<rect x="264" y="182" width="1" height="1" fill="#00ff00"/>
<rect x="265" y="182" width="1" height="1" fill="#00ff00"/>
<rect x="266" y="182" width="1" height="1" fill="#00ff00"/>
<rect x="270" y="182" width="1" height="1" fill="#00ff00"/>
<rect x="271" y="182" width="1" height="1" fill="#00ff00"/>
<rect x="272" y="182" width="1" height="1" fill="#00ff00"/>
<rect x="276" y="182" width="1" height="1" fill="#00ff00"/>
<rect x="277" y="182" width="1" height="1" fill="#00ff00"/>
<rect x="278" y="182" width="1" height="1" fill="#00ff00"/>
<rect x="282" y="182" width="1" height="1" fill="#00ff00"/>
<rect x="283" y="182" width="1" height="1" fill="#00ff00"/>
<rect x="284" y="182" width="1" height="1" fill="#00ff00"/>
<rect x="288" y="182" width="1" height="1" fill="#00ff00"/>
<rect x="289" y="182" width="1" height="1" fill="#00ff00"/>
<rect x="290" y="182" width="1" height="1" fill="#00ff00"/>
<rect x="294" y="182" width="1" height="1" fill="#00ff00"/>
<rect x="295" y="182" width="1" height="1" fill="#00ff00"/>
<rect x="296" y="182" width="1" height="1" fill="#00ff00"/>
<rect x="300" y="182" width="1" height="1" fill="#00ff00"/>
<rect x="301" y="182" width="1" height="1" fill="#00ff00"/>
<rect x="302" y="182" width="1" height="1" fill="#00ff00"/>
<rect x="306" y="182" width="1" height="1" fill="#00ff00"/>
<rect x="307" y="182" width="1" height="1" fill="#00ff00"/>
<rect x="308" y="182" width="1" height="1" fill="#00ff00"/>
<rect x="312" y="182" width="1" height="1" fill="#00ff00"/>
<rect x="313" y="182" width="1" height="1" fill="#00ff00"/>
<rect x="314" y="182" width="1" height="1" fill="#00ff00"/>
<rect x="318" y="181" width="1" height="1" fill="#00ff00"/>
<rect x="319" y="181" width="1" height="1" fill="#00ff00"/>
<rect x="320" y="181" width="1" height="1" fill="#00ff00"/>
<rect x="324" y="181" width="1" height="1" fill="#00ff00"/>
<rect x="325" y="181" width="1" height="1" fill="#00ff00"/>
<rect x="326" y="181" width="1" height="1" fill="#00ff00"/>
<rect x="330" y="181" width="1" height="1" fill="#00ff00"/>
<rect x="331" y="181" width="1" height="1" fill="#00ff00"/>
<rect x="332" y="181" width="1" height="1" fill="#00ff00"/>
<rect x="336" y="181" width="1" height="1" fill="#00ff00"/>
<rect x="337" y="181" width="1" height="1" fill="#00ff00"/>
<rect x="338" y="181" width="1" height="1" fill="#00ff00"/>
<rect x="342" y="181" width="1" height="1" fill="#00ff00"/>
<rect x="343" y="181" width="1" height="1" fill="#00ff00"/>
<rect x="344" y="181" width="1" height="1" fill="#00ff00"/>
<rect x="348" y="181" width="1" height="1" fill="#00ff00"/>
<rect x="349" y="181" width="1" height="1" fill="#00ff00"/>
<rect x="350" y="181" width="1" height="1" fill="#00ff00"/>
<rect x="354" y="181" width="1" height="1" fill="#00ff00"/>
<rect x="355" y="181" width="1" height="1" fill="#00ff00"/>
<rect x="356" y="181" width="1" height="1" fill="#00ff00"/>
<rect x="360" y="181" width="1" height="1" fill="#00ff00"/>
<rect x="361" y="181" width="1" height="1" fill="#00ff00"/>
<rect x="362" y="181" width="1" height="1" fill="#00ff00"/>
<rect x="366" y="181" width="1" height="1" fill="#00ff00"/>
<rect x="367" y="181" width="1" height="1" fill="#00ff00"/>
<rect x="368" y="181" width="1" height="1" fill="#00ff00"/>
<rect x="372" y="181" width="1" height="1" fill="#00ff00"/>
<rect x="373" y="181" width="1" height="1" fill="#00ff00"/>
<rect x="374" y="181" width="1" height="1" fill="#00ff00"/>
<rect x="378" y="181" width="1" height="1" fill="#00ff00"/>
<rect x="379" y="181" width="1" height="1" fill="#00ff00"/>
<rect x="380" y="181" width="1" height="1" fill="#00ff00"/>
<rect x="384" y="181" width="1" height="1" fill="#00ff00"/>
<rect x="385" y="181" width="1" height="1" fill="#00ff00"/>
<rect x="386" y="181" width="1" height="1" fill="#00ff00"/>
<rect x="390" y="180" width="1" height="1" fill="#00ff00"/>
<rect x="391" y="180" width="1" height="1" fill="#00ff00"/>
<rect x="392" y="180" width="1" height="1" fill="#00ff00"/>
<rect x="396" y="180" width="1" height="1" fill="#00ff00"/>
<rect x="397" y="180" width="1" height="1" fill="#00ff00"/>
<rect x="398" y="180" width="1" height="1" fill="#00ff00"/>
<rect x="402" y="180" width="1" height="1" fill="#00ff00"/>
<rect x="403" y="180" width="1" height="1" fill="#00ff00"/>
<rect x="404" y="180" width="1" height="1" fill="#00ff00"/>
<rect x="408" y="180" width="1" height="1" fill="#00ff00"/>
<rect x="409" y="180" width="1" height="1" fill="#00ff00"/>
<rect x="410" y="180" width="1" height="1" fill="#00ff00"/>
<rect x="414" y="180" width="1" height="1" fill="#00ff00"/>
<rect x="415" y="180" width="1" height="1" fill="#00ff00"/>
<rect x="416" y="180" width="1" height="1" fill="#00ff00"/>
<rect x="420" y="180" width="1" height="1" fill="#00ff00"/>
<rect x="421" y="180" width="1" height="1" fill="#00ff00"/>
<rect x="422" y="180" width="1" height="1" fill="#00ff00"/>
<rect x="426" y="180" width="1" height="1" fill="#00ff00"/>
<rect x="427" y="180" width="1" height="1" fill="#00ff00"/>
<rect x="428" y="180" width="1" height="1" fill="#00ff00"/>
<rect x="432" y="180" width="1" height="1" fill="#00ff00"/>
<rect x="433" y="180" width="1" height="1" fill="#00ff00"/>
<rect x="434" y="180" width="1" height="1" fill="#00ff00"/>
<rect x="438" y="180" width="1" height="1" fill="#00ff00"/>
<rect x="439" y="180" width="1" height="1" fill="#00ff00"/>
<rect x="440" y="180" width="1" height="1" fill="#00ff00"/>
<rect x="444" y="180" width="1" height="1" fill="#00ff00"/>
<rect x="445" y="180" width="1" height="1" fill="#00ff00"/>
<rect x="446" y="180" width="1" height="1" fill="#00ff00"/>
<rect x="450" y="180" width="1" height="1" fill="#00ff00"/>
<rect x="451" y="180" width="1" height="1" fill="#00ff00"/>
<rect x="452" y="180" width="1" height="1" fill="#00ff00"/>
<rect x="456" y="180" width="1" height="1" fill="#00ff00"/>
<rect x="457" y="180" width="1" height="1" fill="#00ff00"/>
<rect x="458" y="179" width="1" height="1" fill="#00ff00"/>
<rect x="462" y="179" width="1" height="1" fill="#00ff00"/>
<rect x="463" y="179" width="1" height="1" fill="#00ff00"/>
<rect x="464" y="179" width="1" height="1" fill="#00ff00"/>
<rect x="468" y="179" width="1" height="1" fill="#00ff00"/>
<rect x="469" y="179" width="1" height="1" fill="#00ff00"/>
<rect x="470" y="179" width="1" height="1" fill="#00ff00"/>
<rect x="474" y="179" width="1" height="1" fill="#00ff00"/>
<rect x="475" y="179" width="1" height="1" fill="#00ff00"/>
<rect x="476" y="179" width="1" height="1" fill="#00ff00"/>
<rect x="480" y="179" width="1" height="1" fill="#00ff00"/>
<rect x="481" y="179" width="1" height="1" fill="#00ff00"/>
<rect x="482" y="179" width="1" height="1" fill="#00ff00"/>
<rect x="486" y="179" width="1" height="1" fill="#00ff00"/>
<rect x="487" y="179" width="1" height="1" fill="#00ff00"/>
<rect x="488" y="179" width="1" height="1" fill="#00ff00"/>
<rect x="492" y="179" width="1" height="1" fill="#00ff00"/>
<rect x="493" y="179" width="1" height="1" fill="#00ff00"/>
<rect x="494" y="179" width="1" height="1" fill="#00ff00"/>
<rect x="498" y="179" width="1" height="1" fill="#00ff00"/>
<rect x="499" y="179" width="1" height="1" fill="#00ff00"/>
<rect x="500" y="179" width="1" height="1" fill="#00ff00"/>
<rect x="504" y="179" width="1" height="1" fill="#00ff00"/>
<rect x="505" y="179" width="1" height="1" fill="#00ff00"/>
<rect x="506" y="179" width="1" height="1" fill="#00ff00"/>
<rect x="510" y="179" width="1" height="1" fill="#00ff00"/>
<rect x="511" y="179" width="1" height="1" fill="#00ff00"/>
<rect x="512" y="179" width="1" height="1" fill="#00ff00"/>
<rect x="516" y="179" width="1" height="1" fill="#00ff00"/>
<rect x="517" y="179" width="1" height="1" fill="#00ff00"/>
<rect x="518" y="179" width="1" height="1" fill="#00ff00"/>
<rect x="522" y="179" width="1" height="1" fill="#00ff00"/>
<rect x="523" y="179" width="1" height="1" fill="#00ff00"/>
<rect x="524" y="179" width="1" height="1" fill="#00ff00"/>
<rect x="528" y="179" width="1" height="1" fill="#00ff00"/>
<rect x="529" y="178" width="1" height="1" fill="#00ff00"/>
<rect x="530" y="178" width="1" height="1" fill="#00ff00"/>
<rect x="534" y="178" width="1" height="1" fill="#00ff00"/>
<rect x="535" y="178" width="1" height="1" fill="#00ff00"/>
<rect x="536" y="178" width="1" height="1" fill="#00ff00"/>
<rect x="540" y="178" width="1" height="1" fill="#00ff00"/>
<rect x="541" y="178" width="1" height="1" fill="#00ff00"/>
<rect x="542" y="178" width="1" height="1" fill="#00ff00"/>
<rect x="546" y="178" width="1" height="1" fill="#00ff00"/>
<rect x="547" y="178" width="1" height="1" fill="#00ff00"/>
<rect x="548" y="178" width="1" height="1" fill="#00ff00"/>
<rect x="552" y="178" width="1" height="1" fill="#00ff00"/>
<rect x="553" y="178" width="1" height="1" fill="#00ff00"/>
<rect x="554" y="178" width="1" height="1" fill="#00ff00"/>
<rect x="558" y="178" width="1" height="1" fill="#00ff00"/>
<rect x="559" y="178" width="1" height="1" fill="#00ff00"/>
<rect x="560" y="178" width="1" height="1" fill="#00ff00"/>
<rect x="564" y="178" width="1" height="1" fill="#00ff00"/>
<rect x="565" y="178" width="1" height="1" fill="#00ff00"/>
<rect x="566" y="178" width="1" height="1" fill="#00ff00"/>
<rect x="570" y="178" width="1" height="1" fill="#00ff00"/>
<rect x="571" y="178" width="1" height="1" fill="#00ff00"/>
<rect x="572" y="178" width="1" height="1" fill="#00ff00"/>
<rect x="576" y="178" width="1" height="1" fill="#00ff00"/>
<rect x="577" y="178" width="1" height="1" fill="#00ff00"/>
<rect x="578" y="178" width="1" height="1" fill="#00ff00"/>
<rect x="582" y="178" width="1" height="1" fill="#00ff00"/>
<rect x="583" y="178" width="1" height="1" fill="#00ff00"/>
<rect x="584" y="178" width="1" height="1" fill="#00ff00"/>
<rect x="588" y="178" width="1" height="1" fill="#00ff00"/>
<rect x="589" y="178" width="1" height="1" fill="#00ff00"/>
<rect x="590" y="178" width="1" height="1" fill="#00ff00"/>
<rect x="594" y="178" width="1" height="1" fill="#00ff00"/>
<rect x="595" y="178" width="1" height="1" fill="#00ff00"/>
<rect x="596" y="178" width="1" height="1" fill="#00ff00"/>
<rect x="600" y="177" width="1" height="1" fill="#00ff00"/>
<rect x="601" y="177" width="1" height="1" fill="#00ff00"/>
<rect x="602" y="177" width="1" height="1" fill="#00ff00"/>
<rect x="606" y="177" width="1" height="1" fill="#00ff00"/>
<rect x="607" y="177" width="1" height="1" fill="#00ff00"/>
<rect x="608" y="177" width="1" height="1" fill="#00ff00"/>
<rect x="612" y="177" width="1" height="1" fill="#00ff00"/>
<rect x="613" y="177" width="1" height="1" fill="#00ff00"/>
<rect x="614" y="177" width="1" height="1" fill="#00ff00"/>
<rect x="618" y="177" width="1" height="1" fill="#00ff00"/>
<rect x="619" y="177" width="1" height="1" fill="#00ff00"/>
<rect x="620" y="177" width="1" height="1" fill="#00ff00"/>
<rect x="624" y="177" width="1" height="1" fill="#00ff00"/>
<rect x="625" y="177" width="1" height="1" fill="#00ff00"/>
<rect x="626" y="177" width="1" height="1" fill="#00ff00"/>
<rect x="630" y="177" width="1" height="1" fill="#00ff00"/>
<rect x="631" y="177" width="1" height="1" fill="#00ff00"/>
<rect x="632" y="177" width="1" height="1" fill="#00ff00"/>
<rect x="636" y="177" width="1" height="1" fill="#00ff00"/>
<rect x="637" y="177" width="1" height="1" fill="#00ff00"/>
<rect x="638" y="177" width="1" height="1" fill="#00ff00"/>
<rect x="642" y="177" width="1" height="1" fill="#00ff00"/>
<rect x="643" y="177" width="1" height="1" fill="#00ff00"/>
<rect x="644" y="177" width="1" height="1" fill="#00ff00"/>
<rect x="648" y="177" width="1" height="1" fill="#00ff00"/>
<rect x="649" y="177" width="1" height="1" fill="#00ff00"/>
<rect x="650" y="177" width="1" height="1" fill="#00ff00"/>
<rect x="654" y="177" width="1" height="1" fill="#00ff00"/>
<rect x="655" y="177" width="1" height="1" fill="#00ff00"/>
<rect x="656" y="177" width="1" height="1" fill="#00ff00"/>
<rect x="660" y="177" width="1" height="1" fill="#00ff00"/>
<rect x="661" y="177" width="1" height="1" fill="#00ff00"/>
<rect x="662" y="177" width="1" height="1" fill="#00ff00"/>
<rect x="666" y="177" width="1" height="1" fill="#00ff00"/>
<rect x="667" y="177" width="1" height="1" fill="#00ff00"/>
<rect x="668" y="176" width="1" height="1" fill="#00ff00"/>
<rect x="672" y="176" width="1" height="1" fill="#00ff00"/>
<rect x="673" y="176" width="1" height="1" fill="#00ff00"/>
<rect x="674" y="176" width="1" height="1" fill="#00ff00"/>
<rect x="678" y="176" width="1" height="1" fill="#00ff00"/>
<rect x="679" y="176" width="1" height="1" fill="#00ff00"/>
<rect x="680" y="176" width="1" height="1" fill="#00ff00"/>
<rect x="684" y="176" width="1" height="1" fill="#00ff00"/>
<rect x="685" y="176" width="1" height="1" fill="#00ff00"/>
<rect x="686" y="176" width="1" height="1" fill="#00ff00"/>
<rect x="690" y="176" width="1" height="1" fill="#00ff00"/>
<rect x="691" y="176" width="1" height="1" fill="#00ff00"/>
<rect x="692" y="176" width="1" height="1" fill="#00ff00"/>
<rect x="696" y="176" width="1" height="1" fill="#00ff00"/>
<rect x="697" y="176" width="1" height="1" fill="#00ff00"/>
<rect x="698" y="176" width="1" height="1" fill="#00ff00"/>
<rect x="702" y="176" width="1" height="1" fill="#00ff00"/>
<rect x="703" y="176" width="1" height="1" fill="#00ff00"/>
<rect x="704" y="176" width="1" height="1" fill="#00ff00"/>
<rect x="708" y="176" width="1" height="1" fill="#00ff00"/>
<rect x="709" y="176" width="1" height="1" fill="#00ff00"/>
<rect x="710" y="176" width="1" height="1" fill="#00ff00"/>
<rect x="714" y="176" width="1" height="1" fill="#00ff00"/>
<rect x="715" y="176" width="1" height="1" fill="#00ff00"/>
<rect x="716" y="176" width="1" height="1" fill="#00ff00"/>
<rect x="720" y="176" width="1" height="1" fill="#00ff00"/>
<rect x="721" y="176" width="1" height="1" fill="#00ff00"/>
<rect x="722" y="176" width="1" height="1" fill="#00ff00"/>
<rect x="726" y="176" width="1" height="1" fill="#00ff00"/>
<rect x="727" y="176" width="1" height="1" fill="#00ff00"/>
<rect x="728" y="176" width="1" height="1" fill="#00ff00"/>
<rect x="732" y="176" width="1" height="1" fill="#00ff00"/>
<rect x="733" y="176" width="1" height="1" fill="#00ff00"/>
<rect x="734" y="176" width="1" height="1" fill="#00ff00"/>
<rect x="738" y="176" width="1" height="1" fill="#00ff00"/>
<rect x="739" y="176" width="1" height="1" fill="#00ff00"/>
<rect x="740" y="175" width="1" height="1" fill="#00ff00"/>
<rect x="744" y="175" width="1" height="1" fill="#00ff00"/>
<rect x="745" y="175" width="1" height="1" fill="#00ff00"/>
<rect x="746" y="175" width="1" height="1" fill="#00ff00"/>
<rect x="750" y="175" width="1" height="1" fill="#00ff00"/>
<rect x="751" y="175" width="1" height="1" fill="#00ff00"/>
<rect x="752" y="175" width="1" height="1" fill="#00ff00"/>
<rect x="756" y="175" width="1" height="1" fill="#00ff00"/>
<rect x="757" y="175" width="1" height="1" fill="#00ff00"/>
<rect x="758" y="175" width="1" height="1" fill="#00ff00"/>
<rect x="762" y="175" width="1" height="1" fill="#00ff00"/>
<rect x="763" y="175" width="1" height="1" fill="#00ff00"/>
<rect x="764" y="175" width="1" height="1" fill="#00ff00"/>
<rect x="768" y="175" width="1" height="1" fill="#00ff00"/>
<rect x="769" y="175" width="1" height="1" fill="#00ff00"/>
<rect x="770" y="175" width="1" height="1" fill="#00ff00"/>
<rect x="774" y="175" width="1" height="1" fill="#00ff00"/>
<rect x="775" y="175" width="1" height="1" fill="#00ff00"/>
<rect x="776" y="175" width="1" height="1" fill="#00ff00"/>
<rect x="780" y="175" width="1" height="1" fill="#00ff00"/>
<rect x="781" y="175" width="1" height="1" fill="#00ff00"/>
<rect x="782" y="175" width="1" height="1" fill="#00ff00"/>
<rect x="786" y="175" width="1" height="1" fill="#00ff00"/>
<rect x="787" y="175" width="1" height="1" fill="#00ff00"/>
<rect x="788" y="175" width="1" height="1" fill="#00ff00"/>
<rect x="792" y="175" width="1" height="1" fill="#00ff00"/>
<rect x="793" y="175" width="1" height="1" fill="#00ff00"/>
<rect x="794" y="175" width="1" height="1" fill="#00ff00"/>
<rect x="798" y="175" width="1" height="1" fill="#00ff00"/>
<rect x="799" y="175" width="1" height="1" fill="#00ff00"/>
<rect x="800" y="175" width="1" height="1" fill="#00ff00"/>
<rect x="804" y="175" width="1" height="1" fill="#00ff00"/>
<rect x="805" y="175" width="1" height="1" fill="#00ff00"/>
<rect x="806" y="175" width="1" height="1" fill="#00ff00"/>
<rect x="810" y="175" width="1" height="1" fill="#00ff00"/>
<rect x="811" y="174" width="1" height="1" fill="#00ff00"/>
<rect x="812" y="174" width="1" height="1" fill="#00ff00"/>
<rect x="816" y="174" width="1" height="1" fill="#00ff00"/>
<rect x="817" y="174" width="1" height="1" fill="#00ff00"/>
<rect x="818" y="174" width="1" height="1" fill="#00ff00"/>
<rect x="822" y="174" width="1" height="1" fill="#00ff00"/>
<rect x="823" y="174" width="1" height="1" fill="#00ff00"/>
<rect x="824" y="174" width="1" height="1" fill="#00ff00"/>
<rect x="828" y="174" width="1" height="1" fill="#00ff00"/>
<rect x="829" y="174" width="1" height="1" fill="#00ff00"/>
<rect x="830" y="174" width="1" height="1" fill="#00ff00"/>
<rect x="834" y="174" width="1" height="1" fill="#00ff00"/>
<rect x="835" y="174" width="1" height="1" fill="#00ff00"/>
<rect x="836" y="174" width="1" height="1" fill="#00ff00"/>
<rect x="840" y="174" width="1" height="1" fill="#00ff00"/>
<rect x="841" y="174" width="1" height="1" fill="#00ff00"/>
<rect x="842" y="174" width="1" height="1" fill="#00ff00"/>
<rect x="0" y="57" width="71" height="2" fill="#00ff00"/>
<rect x="70" y="56" width="70" height="2" fill="#00ff00"/>
<rect x="139" y="55" width="73" height="2" fill="#00ff00"/>
<rect x="211" y="54" width="71" height="2" fill="#00ff00"/>
<rect x="281" y="53" width="72" height="2" fill="#00ff00"/>
<rect x="352" y="52" width="71" height="2" fill="#00ff00"/>
<rect x="422" y="51" width="72" height="2" fill="#00ff00"/>
<rect x="493" y="50" width="72" height="2" fill="#00ff00"/>
<rect x="564" y="49" width="71" height="2" fill="#00ff00"/>
<rect x="634" y="48" width="72" height="2" fill="#00ff00"/>
<rect x="705" y="47" width="71" height="2" fill="#00ff00"/>
<rect x="775" y="46" width="71" height="2" fill="#00ff00"/>
<rect x="0" y="313" width="71" height="2" fill="#00ff00"/>
<rect x="70" y="312" width="70" height="2" fill="#00ff00"/>
<rect x="139" y="311" width="73" height="2" fill="#00ff00"/>
<rect x="211" y="310" width="71" height="2" fill="#00ff00"/>
<rect x="281" y="309" width="72" height="2" fill="#00ff00"/>
<rect x="352" y="308" width="71" height="2" fill="#00ff00"/>
<rect x="422" y="307" width="72" height="2" fill="#00ff00"/>
<rect x="493" y="306" width="72" height="2" fill="#00ff00"/>
<rect x="564" y="305" width="71" height="2" fill="#00ff00"/>
<rect x="634" y="304" width="72" height="2" fill="#00ff00"/>
<rect x="705" y="303" width="71" height="2" fill="#00ff00"/>
<rect x="775" y="302" width="71" height="2" fill="#00ff00"/>
<rect x="69" y="56" width="1" height="1" fill="#000"/>
<rect x="138" y="55" width="1" height="1" fill="#000"/>
<rect x="210" y="54" width="1" height="1" fill="#000"/>
<rect x="69" y="312" width="1" height="1" fill="#000"/>
</g>
<path d="M671 2h9v1h-1v1h-1v1h-1v1h-1v1h-1v-1h-1v-1h-1v-1h-1v-1h-1z" fill="#c0c0c0" shape-rendering="crispEdges"/>
<g font-family='"Liberation Sans", sans-serif' text-rendering="geometricPrecision">
<text transform="translate(2.93,418) scale(0.9461,1)" font-size="10.00" fill="#000" stroke="#000" stroke-width="0.25">OsMA(12,26,9) 0.0033</text>
<text transform="translate(104.04,418) scale(0.9147,1)" font-size="10.00" fill="#000" stroke="#000" stroke-width="0.25">Stoch(5,3,3) 67.5000 70.1461</text>
<text transform="translate(231.76,418) scale(0.9265,1)" font-size="10.00" fill="#000" stroke="#000" stroke-width="0.25">RSI(14) 65.5919</text>
</g>
<g shape-rendering="crispEdges">
<rect x="0" y="420" width="3" height="1" fill="#c0c0c0"/>
<rect x="6" y="420" width="3" height="1" fill="#c0c0c0"/>
<rect x="12" y="420" width="3" height="1" fill="#c0c0c0"/>
<rect x="18" y="420" width="3" height="1" fill="#c0c0c0"/>
<rect x="24" y="420" width="3" height="1" fill="#c0c0c0"/>
<rect x="30" y="420" width="3" height="1" fill="#c0c0c0"/>
<rect x="36" y="420" width="3" height="1" fill="#c0c0c0"/>
<rect x="42" y="420" width="3" height="1" fill="#c0c0c0"/>
<rect x="48" y="420" width="3" height="1" fill="#c0c0c0"/>
<rect x="54" y="420" width="3" height="1" fill="#c0c0c0"/>
<rect x="60" y="420" width="3" height="1" fill="#c0c0c0"/>
<rect x="66" y="420" width="3" height="1" fill="#c0c0c0"/>
<rect x="72" y="420" width="3" height="1" fill="#c0c0c0"/>
<rect x="78" y="420" width="3" height="1" fill="#c0c0c0"/>
<rect x="84" y="420" width="3" height="1" fill="#c0c0c0"/>
<rect x="90" y="420" width="3" height="1" fill="#c0c0c0"/>
<rect x="96" y="420" width="3" height="1" fill="#c0c0c0"/>
<rect x="102" y="420" width="3" height="1" fill="#c0c0c0"/>
<rect x="108" y="420" width="3" height="1" fill="#c0c0c0"/>
<rect x="114" y="420" width="3" height="1" fill="#c0c0c0"/>
<rect x="120" y="420" width="3" height="1" fill="#c0c0c0"/>
<rect x="126" y="420" width="3" height="1" fill="#c0c0c0"/>
<rect x="132" y="420" width="3" height="1" fill="#c0c0c0"/>
<rect x="138" y="420" width="3" height="1" fill="#c0c0c0"/>
<rect x="144" y="420" width="3" height="1" fill="#c0c0c0"/>
<rect x="150" y="420" width="3" height="1" fill="#c0c0c0"/>
<rect x="156" y="420" width="3" height="1" fill="#c0c0c0"/>
<rect x="162" y="420" width="3" height="1" fill="#c0c0c0"/>
<rect x="168" y="420" width="3" height="1" fill="#c0c0c0"/>
<rect x="174" y="420" width="3" height="1" fill="#c0c0c0"/>
<rect x="180" y="420" width="3" height="1" fill="#c0c0c0"/>
<rect x="186" y="420" width="3" height="1" fill="#c0c0c0"/>
<rect x="192" y="420" width="3" height="1" fill="#c0c0c0"/>
<rect x="198" y="420" width="3" height="1" fill="#c0c0c0"/>
<rect x="204" y="420" width="3" height="1" fill="#c0c0c0"/>
<rect x="210" y="420" width="3" height="1" fill="#c0c0c0"/>
<rect x="216" y="420" width="3" height="1" fill="#c0c0c0"/>
<rect x="222" y="420" width="3" height="1" fill="#c0c0c0"/>
<rect x="228" y="420" width="3" height="1" fill="#c0c0c0"/>
<rect x="234" y="420" width="3" height="1" fill="#c0c0c0"/>
<rect x="240" y="420" width="3" height="1" fill="#c0c0c0"/>
<rect x="246" y="420" width="3" height="1" fill="#c0c0c0"/>
<rect x="252" y="420" width="3" height="1" fill="#c0c0c0"/>
<rect x="258" y="420" width="3" height="1" fill="#c0c0c0"/>
<rect x="264" y="420" width="3" height="1" fill="#c0c0c0"/>
<rect x="270" y="420" width="3" height="1" fill="#c0c0c0"/>
<rect x="276" y="420" width="3" height="1" fill="#c0c0c0"/>
<rect x="282" y="420" width="3" height="1" fill="#c0c0c0"/>
<rect x="288" y="420" width="3" height="1" fill="#c0c0c0"/>
<rect x="294" y="420" width="3" height="1" fill="#c0c0c0"/>
<rect x="300" y="420" width="3" height="1" fill="#c0c0c0"/>
<rect x="306" y="420" width="3" height="1" fill="#c0c0c0"/>
<rect x="312" y="420" width="3" height="1" fill="#c0c0c0"/>
<rect x="318" y="420" width="3" height="1" fill="#c0c0c0"/>
<rect x="324" y="420" width="3" height="1" fill="#c0c0c0"/>
<rect x="330" y="420" width="3" height="1" fill="#c0c0c0"/>
<rect x="336" y="420" width="3" height="1" fill="#c0c0c0"/>
<rect x="342" y="420" width="3" height="1" fill="#c0c0c0"/>
<rect x="348" y="420" width="3" height="1" fill="#c0c0c0"/>
<rect x="354" y="420" width="3" height="1" fill="#c0c0c0"/>
<rect x="360" y="420" width="3" height="1" fill="#c0c0c0"/>
<rect x="366" y="420" width="3" height="1" fill="#c0c0c0"/>
<rect x="372" y="420" width="3" height="1" fill="#c0c0c0"/>
<rect x="378" y="420" width="3" height="1" fill="#c0c0c0"/>
<rect x="384" y="420" width="3" height="1" fill="#c0c0c0"/>
<rect x="390" y="420" width="3" height="1" fill="#c0c0c0"/>
<rect x="396" y="420" width="3" height="1" fill="#c0c0c0"/>
<rect x="402" y="420" width="3" height="1" fill="#c0c0c0"/>
<rect x="408" y="420" width="3" height="1" fill="#c0c0c0"/>
<rect x="414" y="420" width="3" height="1" fill="#c0c0c0"/>
<rect x="420" y="420" width="3" height="1" fill="#c0c0c0"/>
<rect x="426" y="420" width="3" height="1" fill="#c0c0c0"/>
<rect x="432" y="420" width="3" height="1" fill="#c0c0c0"/>
<rect x="438" y="420" width="3" height="1" fill="#c0c0c0"/>
<rect x="444" y="420" width="3" height="1" fill="#c0c0c0"/>
<rect x="450" y="420" width="3" height="1" fill="#c0c0c0"/>
<rect x="456" y="420" width="3" height="1" fill="#c0c0c0"/>
<rect x="462" y="420" width="3" height="1" fill="#c0c0c0"/>
<rect x="468" y="420" width="3" height="1" fill="#c0c0c0"/>
<rect x="474" y="420" width="3" height="1" fill="#c0c0c0"/>
<rect x="480" y="420" width="3" height="1" fill="#c0c0c0"/>
<rect x="486" y="420" width="3" height="1" fill="#c0c0c0"/>
<rect x="492" y="420" width="3" height="1" fill="#c0c0c0"/>
<rect x="498" y="420" width="3" height="1" fill="#c0c0c0"/>
<rect x="504" y="420" width="3" height="1" fill="#c0c0c0"/>
<rect x="510" y="420" width="3" height="1" fill="#c0c0c0"/>
<rect x="516" y="420" width="3" height="1" fill="#c0c0c0"/>
<rect x="522" y="420" width="3" height="1" fill="#c0c0c0"/>
<rect x="528" y="420" width="3" height="1" fill="#c0c0c0"/>
<rect x="534" y="420" width="3" height="1" fill="#c0c0c0"/>
<rect x="540" y="420" width="3" height="1" fill="#c0c0c0"/>
<rect x="546" y="420" width="3" height="1" fill="#c0c0c0"/>
<rect x="552" y="420" width="3" height="1" fill="#c0c0c0"/>
<rect x="558" y="420" width="3" height="1" fill="#c0c0c0"/>
<rect x="564" y="420" width="3" height="1" fill="#c0c0c0"/>
<rect x="570" y="420" width="3" height="1" fill="#c0c0c0"/>
<rect x="576" y="420" width="3" height="1" fill="#c0c0c0"/>
<rect x="582" y="420" width="3" height="1" fill="#c0c0c0"/>
<rect x="588" y="420" width="3" height="1" fill="#c0c0c0"/>
<rect x="594" y="420" width="3" height="1" fill="#c0c0c0"/>
<rect x="600" y="420" width="3" height="1" fill="#c0c0c0"/>
<rect x="606" y="420" width="3" height="1" fill="#c0c0c0"/>
<rect x="612" y="420" width="3" height="1" fill="#c0c0c0"/>
<rect x="618" y="420" width="3" height="1" fill="#c0c0c0"/>
<rect x="624" y="420" width="3" height="1" fill="#c0c0c0"/>
<rect x="630" y="420" width="3" height="1" fill="#c0c0c0"/>
<rect x="636" y="420" width="3" height="1" fill="#c0c0c0"/>
<rect x="642" y="420" width="3" height="1" fill="#c0c0c0"/>
<rect x="648" y="420" width="3" height="1" fill="#c0c0c0"/>
<rect x="654" y="420" width="3" height="1" fill="#c0c0c0"/>
<rect x="660" y="420" width="3" height="1" fill="#c0c0c0"/>
<rect x="666" y="420" width="3" height="1" fill="#c0c0c0"/>
<rect x="672" y="420" width="3" height="1" fill="#c0c0c0"/>
<rect x="678" y="420" width="3" height="1" fill="#c0c0c0"/>
<rect x="684" y="420" width="3" height="1" fill="#c0c0c0"/>
<rect x="690" y="420" width="3" height="1" fill="#c0c0c0"/>
<rect x="696" y="420" width="3" height="1" fill="#c0c0c0"/>
<rect x="702" y="420" width="3" height="1" fill="#c0c0c0"/>
<rect x="708" y="420" width="3" height="1" fill="#c0c0c0"/>
<rect x="714" y="420" width="3" height="1" fill="#c0c0c0"/>
<rect x="720" y="420" width="3" height="1" fill="#c0c0c0"/>
<rect x="726" y="420" width="3" height="1" fill="#c0c0c0"/>
<rect x="732" y="420" width="3" height="1" fill="#c0c0c0"/>
<rect x="738" y="420" width="3" height="1" fill="#c0c0c0"/>
<rect x="744" y="420" width="3" height="1" fill="#c0c0c0"/>
<rect x="750" y="420" width="3" height="1" fill="#c0c0c0"/>
<rect x="756" y="420" width="3" height="1" fill="#c0c0c0"/>
<rect x="762" y="420" width="3" height="1" fill="#c0c0c0"/>
<rect x="768" y="420" width="3" height="1" fill="#c0c0c0"/>
<rect x="774" y="420" width="3" height="1" fill="#c0c0c0"/>
<rect x="780" y="420" width="3" height="1" fill="#c0c0c0"/>
<rect x="786" y="420" width="3" height="1" fill="#c0c0c0"/>
<rect x="792" y="420" width="3" height="1" fill="#c0c0c0"/>
<rect x="798" y="420" width="3" height="1" fill="#c0c0c0"/>
<rect x="804" y="420" width="3" height="1" fill="#c0c0c0"/>
<rect x="810" y="420" width="3" height="1" fill="#c0c0c0"/>
<rect x="816" y="420" width="3" height="1" fill="#c0c0c0"/>
<rect x="822" y="420" width="3" height="1" fill="#c0c0c0"/>
<rect x="828" y="420" width="3" height="1" fill="#c0c0c0"/>
<rect x="834" y="420" width="3" height="1" fill="#c0c0c0"/>
<rect x="840" y="420" width="3" height="1" fill="#c0c0c0"/>
<rect x="0" y="462" width="3" height="1" fill="#c0c0c0"/>
<rect x="6" y="462" width="3" height="1" fill="#c0c0c0"/>
<rect x="12" y="462" width="3" height="1" fill="#c0c0c0"/>
<rect x="18" y="462" width="3" height="1" fill="#c0c0c0"/>
<rect x="24" y="462" width="3" height="1" fill="#c0c0c0"/>
<rect x="30" y="462" width="3" height="1" fill="#c0c0c0"/>
<rect x="36" y="462" width="3" height="1" fill="#c0c0c0"/>
<rect x="42" y="462" width="3" height="1" fill="#c0c0c0"/>
<rect x="48" y="462" width="3" height="1" fill="#c0c0c0"/>
<rect x="54" y="462" width="3" height="1" fill="#c0c0c0"/>
<rect x="60" y="462" width="3" height="1" fill="#c0c0c0"/>
<rect x="66" y="462" width="3" height="1" fill="#c0c0c0"/>
<rect x="72" y="462" width="3" height="1" fill="#c0c0c0"/>
<rect x="78" y="462" width="3" height="1" fill="#c0c0c0"/>
<rect x="84" y="462" width="3" height="1" fill="#c0c0c0"/>
<rect x="90" y="462" width="3" height="1" fill="#c0c0c0"/>
<rect x="96" y="462" width="3" height="1" fill="#c0c0c0"/>
<rect x="102" y="462" width="3" height="1" fill="#c0c0c0"/>
<rect x="108" y="462" width="3" height="1" fill="#c0c0c0"/>
<rect x="114" y="462" width="3" height="1" fill="#c0c0c0"/>
<rect x="120" y="462" width="3" height="1" fill="#c0c0c0"/>
<rect x="126" y="462" width="3" height="1" fill="#c0c0c0"/>
<rect x="132" y="462" width="3" height="1" fill="#c0c0c0"/>
<rect x="138" y="462" width="3" height="1" fill="#c0c0c0"/>
<rect x="144" y="462" width="3" height="1" fill="#c0c0c0"/>
<rect x="150" y="462" width="3" height="1" fill="#c0c0c0"/>
<rect x="156" y="462" width="3" height="1" fill="#c0c0c0"/>
<rect x="162" y="462" width="3" height="1" fill="#c0c0c0"/>
<rect x="168" y="462" width="3" height="1" fill="#c0c0c0"/>
<rect x="174" y="462" width="3" height="1" fill="#c0c0c0"/>
<rect x="180" y="462" width="3" height="1" fill="#c0c0c0"/>
<rect x="186" y="462" width="3" height="1" fill="#c0c0c0"/>
<rect x="192" y="462" width="3" height="1" fill="#c0c0c0"/>
<rect x="198" y="462" width="3" height="1" fill="#c0c0c0"/>
<rect x="204" y="462" width="3" height="1" fill="#c0c0c0"/>
<rect x="210" y="462" width="3" height="1" fill="#c0c0c0"/>
<rect x="216" y="462" width="3" height="1" fill="#c0c0c0"/>
<rect x="222" y="462" width="3" height="1" fill="#c0c0c0"/>
<rect x="228" y="462" width="3" height="1" fill="#c0c0c0"/>
<rect x="234" y="462" width="3" height="1" fill="#c0c0c0"/>
<rect x="240" y="462" width="3" height="1" fill="#c0c0c0"/>
<rect x="246" y="462" width="3" height="1" fill="#c0c0c0"/>
<rect x="252" y="462" width="3" height="1" fill="#c0c0c0"/>
<rect x="258" y="462" width="3" height="1" fill="#c0c0c0"/>
<rect x="264" y="462" width="3" height="1" fill="#c0c0c0"/>
<rect x="270" y="462" width="3" height="1" fill="#c0c0c0"/>
<rect x="276" y="462" width="3" height="1" fill="#c0c0c0"/>
<rect x="282" y="462" width="3" height="1" fill="#c0c0c0"/>
<rect x="288" y="462" width="3" height="1" fill="#c0c0c0"/>
<rect x="294" y="462" width="3" height="1" fill="#c0c0c0"/>
<rect x="300" y="462" width="3" height="1" fill="#c0c0c0"/>
<rect x="306" y="462" width="3" height="1" fill="#c0c0c0"/>
<rect x="312" y="462" width="3" height="1" fill="#c0c0c0"/>
<rect x="318" y="462" width="3" height="1" fill="#c0c0c0"/>
<rect x="324" y="462" width="3" height="1" fill="#c0c0c0"/>
<rect x="330" y="462" width="3" height="1" fill="#c0c0c0"/>
<rect x="336" y="462" width="3" height="1" fill="#c0c0c0"/>
<rect x="342" y="462" width="3" height="1" fill="#c0c0c0"/>
<rect x="348" y="462" width="3" height="1" fill="#c0c0c0"/>
<rect x="354" y="462" width="3" height="1" fill="#c0c0c0"/>
<rect x="360" y="462" width="3" height="1" fill="#c0c0c0"/>
<rect x="366" y="462" width="3" height="1" fill="#c0c0c0"/>
<rect x="372" y="462" width="3" height="1" fill="#c0c0c0"/>
<rect x="378" y="462" width="3" height="1" fill="#c0c0c0"/>
<rect x="384" y="462" width="3" height="1" fill="#c0c0c0"/>
<rect x="390" y="462" width="3" height="1" fill="#c0c0c0"/>
<rect x="396" y="462" width="3" height="1" fill="#c0c0c0"/>
<rect x="402" y="462" width="3" height="1" fill="#c0c0c0"/>
<rect x="408" y="462" width="3" height="1" fill="#c0c0c0"/>
<rect x="414" y="462" width="3" height="1" fill="#c0c0c0"/>
<rect x="420" y="462" width="3" height="1" fill="#c0c0c0"/>
<rect x="426" y="462" width="3" height="1" fill="#c0c0c0"/>
<rect x="432" y="462" width="3" height="1" fill="#c0c0c0"/>
<rect x="438" y="462" width="3" height="1" fill="#c0c0c0"/>
<rect x="444" y="462" width="3" height="1" fill="#c0c0c0"/>
<rect x="450" y="462" width="3" height="1" fill="#c0c0c0"/>
<rect x="456" y="462" width="3" height="1" fill="#c0c0c0"/>
<rect x="462" y="462" width="3" height="1" fill="#c0c0c0"/>
<rect x="468" y="462" width="3" height="1" fill="#c0c0c0"/>
<rect x="474" y="462" width="3" height="1" fill="#c0c0c0"/>
<rect x="480" y="462" width="3" height="1" fill="#c0c0c0"/>
<rect x="486" y="462" width="3" height="1" fill="#c0c0c0"/>
<rect x="492" y="462" width="3" height="1" fill="#c0c0c0"/>
<rect x="498" y="462" width="3" height="1" fill="#c0c0c0"/>
<rect x="504" y="462" width="3" height="1" fill="#c0c0c0"/>
<rect x="510" y="462" width="3" height="1" fill="#c0c0c0"/>
<rect x="516" y="462" width="3" height="1" fill="#c0c0c0"/>
<rect x="522" y="462" width="3" height="1" fill="#c0c0c0"/>
<rect x="528" y="462" width="3" height="1" fill="#c0c0c0"/>
<rect x="534" y="462" width="3" height="1" fill="#c0c0c0"/>
<rect x="540" y="462" width="3" height="1" fill="#c0c0c0"/>
<rect x="546" y="462" width="3" height="1" fill="#c0c0c0"/>
<rect x="552" y="462" width="3" height="1" fill="#c0c0c0"/>
<rect x="558" y="462" width="3" height="1" fill="#c0c0c0"/>
<rect x="564" y="462" width="3" height="1" fill="#c0c0c0"/>
<rect x="570" y="462" width="3" height="1" fill="#c0c0c0"/>
<rect x="576" y="462" width="3" height="1" fill="#c0c0c0"/>
<rect x="582" y="462" width="3" height="1" fill="#c0c0c0"/>
<rect x="588" y="462" width="3" height="1" fill="#c0c0c0"/>
<rect x="594" y="462" width="3" height="1" fill="#c0c0c0"/>
<rect x="600" y="462" width="3" height="1" fill="#c0c0c0"/>
<rect x="606" y="462" width="3" height="1" fill="#c0c0c0"/>
<rect x="612" y="462" width="3" height="1" fill="#c0c0c0"/>
<rect x="618" y="462" width="3" height="1" fill="#c0c0c0"/>
<rect x="624" y="462" width="3" height="1" fill="#c0c0c0"/>
<rect x="630" y="462" width="3" height="1" fill="#c0c0c0"/>
<rect x="636" y="462" width="3" height="1" fill="#c0c0c0"/>
<rect x="642" y="462" width="3" height="1" fill="#c0c0c0"/>
<rect x="648" y="462" width="3" height="1" fill="#c0c0c0"/>
<rect x="654" y="462" width="3" height="1" fill="#c0c0c0"/>
<rect x="660" y="462" width="3" height="1" fill="#c0c0c0"/>
<rect x="666" y="462" width="3" height="1" fill="#c0c0c0"/>
<rect x="672" y="462" width="3" height="1" fill="#c0c0c0"/>
<rect x="678" y="462" width="3" height="1" fill="#c0c0c0"/>
<rect x="684" y="462" width="3" height="1" fill="#c0c0c0"/>
<rect x="690" y="462" width="3" height="1" fill="#c0c0c0"/>
<rect x="696" y="462" width="3" height="1" fill="#c0c0c0"/>
<rect x="702" y="462" width="3" height="1" fill="#c0c0c0"/>
<rect x="708" y="462" width="3" height="1" fill="#c0c0c0"/>
<rect x="714" y="462" width="3" height="1" fill="#c0c0c0"/>
<rect x="720" y="462" width="3" height="1" fill="#c0c0c0"/>
<rect x="726" y="462" width="3" height="1" fill="#c0c0c0"/>
<rect x="732" y="462" width="3" height="1" fill="#c0c0c0"/>
<rect x="738" y="462" width="3" height="1" fill="#c0c0c0"/>
<rect x="744" y="462" width="3" height="1" fill="#c0c0c0"/>
<rect x="750" y="462" width="3" height="1" fill="#c0c0c0"/>
<rect x="756" y="462" width="3" height="1" fill="#c0c0c0"/>
<rect x="762" y="462" width="3" height="1" fill="#c0c0c0"/>
<rect x="768" y="462" width="3" height="1" fill="#c0c0c0"/>
<rect x="774" y="462" width="3" height="1" fill="#c0c0c0"/>
<rect x="780" y="462" width="3" height="1" fill="#c0c0c0"/>
<rect x="786" y="462" width="3" height="1" fill="#c0c0c0"/>
<rect x="792" y="462" width="3" height="1" fill="#c0c0c0"/>
<rect x="798" y="462" width="3" height="1" fill="#c0c0c0"/>
<rect x="804" y="462" width="3" height="1" fill="#c0c0c0"/>
<rect x="810" y="462" width="3" height="1" fill="#c0c0c0"/>
<rect x="816" y="462" width="3" height="1" fill="#c0c0c0"/>
<rect x="822" y="462" width="3" height="1" fill="#c0c0c0"/>
<rect x="828" y="462" width="3" height="1" fill="#c0c0c0"/>
<rect x="834" y="462" width="3" height="1" fill="#c0c0c0"/>
<rect x="840" y="462" width="3" height="1" fill="#c0c0c0"/>
<rect x="-2" y="435" width="3" height="7" fill="#00bfff"/>
<rect x="2" y="435" width="3" height="7" fill="#00bfff"/>
<rect x="6" y="435" width="3" height="7" fill="#00bfff"/>
<rect x="10" y="435" width="3" height="7" fill="#00bfff"/>
<rect x="14" y="435" width="3" height="7" fill="#00bfff"/>
<rect x="18" y="435" width="3" height="7" fill="#00bfff"/>
<rect x="22" y="435" width="3" height="6" fill="#00bfff"/>
<rect x="26" y="435" width="3" height="3" fill="#00bfff"/>
<rect x="30" y="435" width="3" height="1" fill="#00bfff"/>
<rect x="34" y="435" width="3" height="1" fill="#00bfff"/>
<rect x="38" y="432" width="3" height="2" fill="#00bfff"/>
<rect x="42" y="430" width="3" height="4" fill="#00bfff"/>
<rect x="46" y="426" width="3" height="8" fill="#00bfff"/>
<rect x="50" y="424" width="3" height="10" fill="#00bfff"/>
<rect x="54" y="425" width="3" height="9" fill="#00bfff"/>
<rect x="58" y="424" width="3" height="10" fill="#00bfff"/>
<rect x="62" y="424" width="3" height="10" fill="#00bfff"/>
<rect x="66" y="422" width="3" height="12" fill="#00bfff"/>
<rect x="70" y="421" width="3" height="13" fill="#00bfff"/>
<rect x="74" y="420" width="3" height="14" fill="#00bfff"/>
<rect x="78" y="422" width="3" height="12" fill="#00bfff"/>
<rect x="82" y="424" width="3" height="10" fill="#00bfff"/>
<rect x="86" y="426" width="3" height="8" fill="#00bfff"/>
<rect x="90" y="427" width="3" height="7" fill="#00bfff"/>
<rect x="94" y="429" width="3" height="5" fill="#00bfff"/>
<rect x="98" y="430" width="3" height="4" fill="#00bfff"/>
<rect x="102" y="430" width="3" height="4" fill="#00bfff"/>
<rect x="106" y="429" width="3" height="5" fill="#00bfff"/>
<rect x="110" y="430" width="3" height="4" fill="#00bfff"/>
<rect x="114" y="430" width="3" height="4" fill="#00bfff"/>
<rect x="118" y="428" width="3" height="6" fill="#00bfff"/>
<rect x="122" y="430" width="3" height="4" fill="#00bfff"/>
<rect x="126" y="433" width="3" height="1" fill="#00bfff"/>
<rect x="130" y="435" width="3" height="3" fill="#00bfff"/>
<rect x="134" y="435" width="3" height="6" fill="#00bfff"/>
<rect x="138" y="435" width="3" height="9" fill="#00bfff"/>
<rect x="142" y="435" width="3" height="8" fill="#00bfff"/>
<rect x="146" y="435" width="3" height="6" fill="#00bfff"/>
<rect x="150" y="435" width="3" height="5" fill="#00bfff"/>
<rect x="154" y="435" width="3" height="4" fill="#00bfff"/>
<rect x="158" y="435" width="3" height="3" fill="#00bfff"/>
<rect x="162" y="435" width="3" height="6" fill="#00bfff"/>
<rect x="166" y="435" width="3" height="11" fill="#00bfff"/>
<rect x="170" y="435" width="3" height="15" fill="#00bfff"/>
<rect x="174" y="435" width="3" height="19" fill="#00bfff"/>
<rect x="178" y="435" width="3" height="18" fill="#00bfff"/>
<rect x="182" y="435" width="3" height="15" fill="#00bfff"/>
<rect x="186" y="435" width="3" height="6" fill="#00bfff"/>
<rect x="190" y="431" width="3" height="3" fill="#00bfff"/>
<rect x="194" y="430" width="3" height="4" fill="#00bfff"/>
<rect x="198" y="424" width="3" height="10" fill="#00bfff"/>
<rect x="202" y="421" width="3" height="13" fill="#00bfff"/>
<rect x="206" y="420" width="3" height="14" fill="#00bfff"/>
<rect x="210" y="420" width="3" height="14" fill="#00bfff"/>
<rect x="214" y="422" width="3" height="12" fill="#00bfff"/>
<rect x="218" y="427" width="3" height="7" fill="#00bfff"/>
<rect x="222" y="435" width="3" height="4" fill="#00bfff"/>
<rect x="226" y="435" width="3" height="6" fill="#00bfff"/>
<rect x="230" y="435" width="3" height="6" fill="#00bfff"/>
<rect x="234" y="435" width="3" height="4" fill="#00bfff"/>
<rect x="238" y="435" width="3" height="3" fill="#00bfff"/>
<rect x="242" y="435" width="3" height="2" fill="#00bfff"/>
<rect x="246" y="433" width="3" height="1" fill="#00bfff"/>
<rect x="250" y="430" width="3" height="4" fill="#00bfff"/>
<rect x="254" y="424" width="3" height="10" fill="#00bfff"/>
<rect x="258" y="422" width="3" height="12" fill="#00bfff"/>
<rect x="262" y="419" width="3" height="15" fill="#00bfff"/>
<rect x="266" y="417" width="3" height="17" fill="#00bfff"/>
<rect x="270" y="417" width="3" height="17" fill="#00bfff"/>
<rect x="274" y="420" width="3" height="14" fill="#00bfff"/>
<rect x="278" y="421" width="3" height="13" fill="#00bfff"/>
<rect x="282" y="424" width="3" height="10" fill="#00bfff"/>
<rect x="286" y="428" width="3" height="6" fill="#00bfff"/>
<rect x="290" y="432" width="3" height="2" fill="#00bfff"/>
<rect x="294" y="435" width="3" height="3" fill="#00bfff"/>
<rect x="298" y="435" width="3" height="10" fill="#00bfff"/>
<rect x="302" y="435" width="3" height="8" fill="#00bfff"/>
<rect x="306" y="435" width="3" height="4" fill="#00bfff"/>
<rect x="310" y="435" width="3" height="6" fill="#00bfff"/>
<rect x="314" y="435" width="3" height="18" fill="#00bfff"/>
<rect x="318" y="435" width="3" height="27" fill="#00bfff"/>
<rect x="322" y="435" width="3" height="32" fill="#00bfff"/>
<rect x="326" y="435" width="3" height="37" fill="#00bfff"/>
<rect x="330" y="435" width="3" height="39" fill="#00bfff"/>
<rect x="334" y="435" width="3" height="38" fill="#00bfff"/>
<rect x="338" y="435" width="3" height="35" fill="#00bfff"/>
<rect x="342" y="435" width="3" height="28" fill="#00bfff"/>
<rect x="346" y="435" width="3" height="18" fill="#00bfff"/>
<rect x="350" y="435" width="3" height="14" fill="#00bfff"/>
<rect x="354" y="435" width="3" height="12" fill="#00bfff"/>
<rect x="358" y="435" width="3" height="12" fill="#00bfff"/>
<rect x="362" y="435" width="3" height="11" fill="#00bfff"/>
<rect x="366" y="435" width="3" height="8" fill="#00bfff"/>
<rect x="370" y="435" width="3" height="6" fill="#00bfff"/>
<rect x="374" y="435" width="3" height="6" fill="#00bfff"/>
<rect x="378" y="435" width="3" height="2" fill="#00bfff"/>
<rect x="382" y="429" width="3" height="5" fill="#00bfff"/>
<rect x="386" y="424" width="3" height="10" fill="#00bfff"/>
<rect x="390" y="418" width="3" height="16" fill="#00bfff"/>
<rect x="394" y="414" width="3" height="20" fill="#00bfff"/>
<rect x="398" y="414" width="3" height="20" fill="#00bfff"/>
<rect x="402" y="416" width="3" height="18" fill="#00bfff"/>
<rect x="406" y="413" width="3" height="21" fill="#00bfff"/>
<rect x="410" y="410" width="3" height="24" fill="#00bfff"/>
<rect x="414" y="413" width="3" height="21" fill="#00bfff"/>
<rect x="418" y="413" width="3" height="21" fill="#00bfff"/>
<rect x="422" y="414" width="3" height="20" fill="#00bfff"/>
<rect x="426" y="416" width="3" height="18" fill="#00bfff"/>
<rect x="430" y="418" width="3" height="16" fill="#00bfff"/>
<rect x="434" y="420" width="3" height="14" fill="#00bfff"/>
<rect x="438" y="424" width="3" height="10" fill="#00bfff"/>
<rect x="442" y="429" width="3" height="5" fill="#00bfff"/>
<rect x="446" y="432" width="3" height="2" fill="#00bfff"/>
<rect x="454" y="435" width="3" height="2" fill="#00bfff"/>
<rect x="458" y="435" width="3" height="2" fill="#00bfff"/>
<rect x="462" y="435" width="3" height="6" fill="#00bfff"/>
<rect x="466" y="435" width="3" height="4" fill="#00bfff"/>
<rect x="470" y="435" width="3" height="2" fill="#00bfff"/>
<rect x="474" y="435" width="3" height="2" fill="#00bfff"/>
<rect x="478" y="435" width="3" height="1" fill="#00bfff"/>
<rect x="482" y="435" width="3" height="2" fill="#00bfff"/>
<rect x="486" y="435" width="3" height="4" fill="#00bfff"/>
<rect x="490" y="435" width="3" height="6" fill="#00bfff"/>
<rect x="494" y="435" width="3" height="7" fill="#00bfff"/>
<rect x="498" y="435" width="3" height="6" fill="#00bfff"/>
<rect x="502" y="435" width="3" height="4" fill="#00bfff"/>
<rect x="506" y="435" width="3" height="2" fill="#00bfff"/>
<rect x="514" y="432" width="3" height="2" fill="#00bfff"/>
<rect x="518" y="429" width="3" height="5" fill="#00bfff"/>
<rect x="522" y="426" width="3" height="8" fill="#00bfff"/>
<rect x="526" y="426" width="3" height="8" fill="#00bfff"/>
<rect x="530" y="426" width="3" height="8" fill="#00bfff"/>
<rect x="534" y="426" width="3" height="8" fill="#00bfff"/>
<rect x="538" y="429" width="3" height="5" fill="#00bfff"/>
<rect x="542" y="432" width="3" height="2" fill="#00bfff"/>
<rect x="550" y="435" width="3" height="2" fill="#00bfff"/>
<rect x="554" y="435" width="3" height="4" fill="#00bfff"/>
<rect x="558" y="435" width="3" height="5" fill="#00bfff"/>
<rect x="562" y="435" width="3" height="4" fill="#00bfff"/>
<rect x="566" y="435" width="3" height="1" fill="#00bfff"/>
<rect x="578" y="432" width="3" height="2" fill="#00bfff"/>
<rect x="582" y="431" width="3" height="3" fill="#00bfff"/>
<rect x="586" y="430" width="3" height="4" fill="#00bfff"/>
<rect x="590" y="431" width="3" height="3" fill="#00bfff"/>
<rect x="594" y="430" width="3" height="4" fill="#00bfff"/>
<rect x="598" y="429" width="3" height="5" fill="#00bfff"/>
<rect x="602" y="426" width="3" height="8" fill="#00bfff"/>
<rect x="606" y="426" width="3" height="8" fill="#00bfff"/>
<rect x="610" y="428" width="3" height="6" fill="#00bfff"/>
<rect x="614" y="431" width="3" height="3" fill="#00bfff"/>
<rect x="622" y="435" width="3" height="2" fill="#00bfff"/>
<rect x="626" y="435" width="3" height="4" fill="#00bfff"/>
<rect x="630" y="435" width="3" height="2" fill="#00bfff"/>
<rect x="634" y="435" width="3" height="4" fill="#00bfff"/>
<rect x="638" y="435" width="3" height="4" fill="#00bfff"/>
<rect x="642" y="435" width="3" height="2" fill="#00bfff"/>
<rect x="646" y="435" width="3" height="2" fill="#00bfff"/>
<rect x="650" y="435" width="3" height="1" fill="#00bfff"/>
<rect x="658" y="432" width="3" height="2" fill="#00bfff"/>
<rect x="662" y="432" width="3" height="2" fill="#00bfff"/>
<rect x="666" y="432" width="3" height="2" fill="#00bfff"/>
<rect x="0" y="427" width="846" height="1" fill="#708090"/>
<rect x="0" y="434" width="846" height="1" fill="#708090"/>
<rect x="0" y="441" width="846" height="1" fill="#708090"/>
<rect x="0" y="455" width="846" height="1" fill="#708090"/>
</g>
<polyline points="0.0,464.5 4.3,458.8 9.3,451.6 14.3,452.4 18.5,455.2 22.8,456.0 27.1,441.7 31.4,437.4 35.7,433.1 40.0,431.0 43.5,424.5 47.0,419.6 51.4,417.4 55.6,419.6 60.0,429.5 64.2,438.1 68.5,443.1 72.8,436.7 77.0,427.4 81.3,421.0 85.6,420.3 89.9,423.1 94.2,421.7 98.4,420.3 103.6,420.3 107.8,421.0 112.0,422.4 115.0,428.8 119.3,427.4 123.5,428.8 127.8,436.0 132.0,447.4 136.4,460.2 139.2,464.5 142.1,458.8 145.6,448.8 149.2,440.2 153.5,436.0 157.8,438.1 162.0,443.1 166.3,453.1 170.6,461.6 174.9,467.3 179.2,463.1 183.4,453.1 187.7,438.8 192.0,424.5 195.7,414.6 201.4,413.8 207.1,414.6 212.8,416.7 217.1,422.4 221.4,433.1 224.2,443.1 227.1,450.2 230.0,455.9 232.8,450.2 235.6,440.2 238.5,433.1 242.8,424.5 247.1,420.3 251.3,419.6 255.6,419.6 259.9,417.4 264.2,415.3 268.5,413.8 272.7,415.3 277.0,419.6 281.3,428.8 285.6,438.8 288.6,444.5 292.1,447.4 296.4,450.2 300.7,453.8 305.0,450.2 309.3,446.0 313.5,446.0 317.8,454.5 322.1,465.9 326.4,472.3 330.6,473.8 334.9,472.3 339.2,468.8 343.5,458.8 347.8,446.7 352.0,440.2 356.3,446.7 360.6,457.4 364.9,464.5 369.2,464.5 373.4,458.8 377.7,446.0 382.0,434.5 386.4,423.1 390.7,415.3 395.7,413.8 400.0,417.4 404.3,426.0 408.5,430.3 412.8,431.0 417.1,427.4 421.4,423.1 425.6,421.7 429.9,421.7 434.2,422.4 438.5,423.8 442.8,431.7 447.0,440.2 451.3,446.7 455.6,451.6 459.9,448.8 464.2,444.5 468.4,440.2 472.7,436.7 477.0,433.8 479.3,436.0 483.6,440.2 487.8,445.2 492.1,451.6 495.7,456.6 500.0,455.9 504.2,447.4 508.5,436.0 512.8,426.0 517.1,419.6 521.4,415.3 525.6,412.4 529.9,411.7 534.2,413.1 538.5,417.4 542.8,427.4 547.0,440.2 551.3,450.2 555.6,458.8 559.9,454.5 564.2,444.5 568.4,436.0 572.7,430.3 574.3,433.1 578.6,440.2 582.8,442.4 587.1,436.0 591.4,431.7 595.7,431.0 600.0,428.1 604.2,422.4 608.5,419.6 612.1,420.3 615.6,426.0 619.2,434.5 622.8,444.5 627.1,451.6 631.3,440.2 635.6,431.7 639.9,428.8 644.2,429.5 648.5,429.5 652.7,428.1 657.0,427.4 661.3,426.7 665.6,426.7 667.0,426.7" fill="none" stroke="#ff0000" stroke-width="1" stroke-linejoin="round" stroke-linecap="butt" stroke-dasharray="3,3"/>
<polyline points="0.0,460.2 3.0,455.2 7.8,446.7 12.8,453.1 19.3,463.8 23.5,447.4 27.1,434.5 31.7,428.1 35.0,436.0 39.2,433.8 42.8,422.4 45.6,416.7 49.2,416.7 53.5,417.4 57.0,426.0 60.0,436.0 64.2,444.5 67.0,446.0 70.0,440.2 72.8,427.4 75.6,419.6 79.2,418.1 82.7,420.3 85.6,423.8 89.9,426.0 94.2,422.4 98.4,420.3 103.6,419.6 107.8,421.7 112.1,423.1 116.4,426.7 120.0,423.8 123.5,429.5 127.1,440.2 130.7,453.1 133.5,465.9 135.7,471.6 137.8,465.9 140.6,453.1 143.5,438.8 145.6,436.0 148.5,436.0 152.0,435.2 155.6,436.0 159.2,438.8 162.0,443.8 164.9,453.1 167.8,463.1 171.3,471.6 174.9,471.6 178.5,467.3 181.3,458.8 184.2,443.1 185.6,420.3 187.0,414.6 190.6,413.1 194.3,413.1 198.6,413.8 204.3,414.6 210.0,416.7 214.3,418.8 217.1,426.0 220.0,437.4 222.1,448.8 224.2,458.8 227.1,460.9 230.0,453.1 232.0,441.7 234.2,431.0 237.1,425.3 240.6,420.3 244.2,418.1 247.8,421.7 251.3,419.6 255.6,418.1 260.0,416.0 264.2,413.8 268.5,413.1 272.7,413.8 277.0,420.3 279.9,433.1 282.7,443.1 285.6,448.8 287.9,451.6 291.4,447.4 295.7,451.6 299.3,455.9 302.8,451.6 306.4,441.7 309.3,436.0 312.1,446.0 315.0,458.8 317.8,468.8 322.1,473.0 327.8,474.5 333.5,473.8 337.8,468.8 341.3,457.4 344.2,441.7 346.3,433.8 348.5,431.7 351.3,438.8 354.2,448.8 356.3,458.8 359.2,467.3 362.7,468.8 366.3,464.5 370.6,460.9 373.4,453.1 376.3,440.2 379.2,427.4 382.0,417.4 385.7,415.3 390.0,414.6 394.3,412.4 396.4,413.1 399.3,418.8 402.1,426.0 405.0,432.4 407.8,431.0 410.7,428.8 414.2,425.3 417.1,422.4 419.9,420.3 422.8,423.1 425.6,421.7 428.5,420.3 431.4,421.7 434.2,422.4 437.1,423.1 439.9,428.8 442.8,436.0 445.6,443.1 448.5,450.2 451.3,455.9 454.2,449.5 457.7,448.1 461.3,446.0 464.2,443.1 467.0,436.0 471.3,432.4 474.9,431.0 477.9,434.5 480.7,440.2 485.0,444.5 489.3,450.2 492.8,457.4 495.7,463.8 498.5,460.2 501.4,453.1 504.2,441.7 507.1,429.5 510.0,421.7 512.8,418.8 516.4,416.0 519.2,412.4 523.5,412.4 527.8,411.7 532.1,413.8 534.9,415.3 537.8,423.1 540.6,434.5 543.5,443.1 546.3,451.6 548.5,457.4 552.0,458.1 554.9,458.8 557.7,454.5 560.6,443.1 563.4,430.3 567.0,421.0 569.9,428.8 572.9,438.8 575.7,444.5 579.3,448.1 581.4,438.8 583.6,429.5 586.4,428.1 589.3,430.3 592.8,431.0 596.4,428.8 599.2,427.4 601.4,420.3 603.5,416.0 606.4,416.7 610.7,418.8 612.8,426.0 615.6,437.4 617.8,448.8 619.2,455.2 622.1,457.4 624.2,455.9 626.3,446.0 628.5,434.5 631.3,425.3 634.9,424.5 637.0,428.8 639.9,432.4 642.8,430.3 647.0,426.0 649.9,427.4 654.2,428.8 658.4,426.7 663.4,425.3 667.0,427.4" fill="none" stroke="#0000ff" stroke-width="1" stroke-linejoin="round" stroke-linecap="butt" />
<g shape-rendering="crispEdges">
<polyline points="0.0,443.1 4.3,443.4 8.6,444.5 12.8,445.7 17.1,445.7 21.4,444.8 25.7,442.8 30.0,443.4 34.2,444.2 37.1,442.4 40.0,439.5 44.2,437.4 48.5,435.2 52.8,434.5 55.6,434.5 58.5,436.7 62.8,433.8 67.0,431.0 71.3,429.5 75.6,431.0 79.9,431.7 84.2,431.7 88.4,430.5 92.7,429.5 97.0,430.0 102.0,428.8 106.4,428.8 110.7,428.8 115.0,428.1 119.3,424.5 122.0,428.1 126.4,433.1 130.7,438.1 135.0,442.4 137.8,440.2 140.6,436.0 143.5,433.1 146.4,436.7 149.2,435.2 152.0,434.5 156.3,436.0 160.6,436.7 163.5,443.1 167.8,446.0 172.0,446.0 176.3,446.0 180.6,443.1 184.9,440.2 189.2,436.7 194.3,435.2 198.6,433.1 202.8,432.4 207.1,431.7 211.4,432.4 215.7,433.8 220.0,438.8 222.1,446.7 224.2,446.0 226.4,443.1 228.5,441.0 231.4,439.5 234.2,436.7 238.5,436.7 242.8,437.4 247.1,438.1 249.9,436.0 254.2,433.1 258.5,431.7 262.8,429.5 267.0,427.4 271.3,427.4 275.6,428.8 279.9,431.0 284.2,432.4 289.3,431.7 292.1,434.5 295.0,438.8 299.3,436.0 303.5,433.8 307.8,433.1 312.1,438.1 316.4,445.2 320.7,448.8 325.0,450.9 329.2,451.6 333.5,451.6 337.8,450.2 342.1,448.8 346.3,447.4 350.6,448.8 354.9,452.4 359.2,452.4 363.5,450.9 367.7,450.2 372.0,450.2 376.3,448.1 380.6,446.0 382.9,442.4 385.7,440.2 390.0,439.5 394.3,436.7 398.5,439.5 402.8,439.5 407.1,434.5 410.7,432.4 414.2,436.0 418.5,434.5 422.8,433.1 427.1,433.1 431.4,433.1 435.6,433.8 439.9,435.2 444.2,436.0 448.5,437.4 452.8,438.1 457.0,436.7 461.3,438.8 465.6,437.4 469.9,435.2 474.2,436.0 479.3,438.1 483.6,438.1 487.8,438.1 492.1,442.4 496.4,442.8 500.7,438.1 505.0,436.0 509.2,434.5 513.5,433.1 517.8,431.7 522.1,430.3 526.4,429.1 534.9,429.1 539.2,431.0 543.5,433.1 547.8,433.8 552.0,434.5 556.3,434.5 560.6,431.7 563.4,428.8 567.7,431.7 572.0,435.6 578.6,433.1 582.8,428.8 587.1,431.0 591.4,431.7 595.7,429.5 600.0,428.8 604.2,428.8 608.5,430.3 612.8,432.4 615.6,436.0 619.9,436.7 624.2,434.5 628.5,431.7 632.8,433.1 637.0,433.8 641.3,432.4 645.6,431.7 649.9,431.7 654.2,430.3 658.4,428.8 662.7,431.0 667.0,431.0" fill="none" stroke="#0000cd" stroke-width="2" stroke-linejoin="round" stroke-linecap="butt" />
</g>
<g shape-rendering="crispEdges">
<rect x="0" y="1" width="847" height="1" fill="#000"/>
<rect x="846" y="1" width="1" height="403" fill="#000"/>
<rect x="0" y="403" width="847" height="1" fill="#000"/>
<rect x="0" y="405" width="847" height="1" fill="#000"/>
<rect x="846" y="405" width="1" height="73" fill="#000"/>
<rect x="0" y="477" width="847" height="1" fill="#000"/>
<rect x="847" y="3" width="2" height="1" fill="#000"/>
<rect x="847" y="45" width="2" height="1" fill="#000"/>
<rect x="847" y="88" width="2" height="1" fill="#000"/>
<rect x="847" y="131" width="2" height="1" fill="#000"/>
<rect x="847" y="174" width="2" height="1" fill="#000"/>
<rect x="847" y="217" width="2" height="1" fill="#000"/>
<rect x="847" y="260" width="2" height="1" fill="#000"/>
<rect x="847" y="303" width="2" height="1" fill="#000"/>
<rect x="847" y="346" width="2" height="1" fill="#000"/>
<rect x="847" y="389" width="2" height="1" fill="#000"/>
<rect x="847" y="406" width="1" height="1" fill="#000"/>
<rect x="847" y="476" width="1" height="1" fill="#000"/>
<rect x="63" y="478" width="1" height="3" fill="#000"/>
<rect x="127" y="478" width="1" height="3" fill="#000"/>
<rect x="191" y="478" width="1" height="3" fill="#000"/>
<rect x="255" y="478" width="1" height="3" fill="#000"/>
<rect x="319" y="478" width="1" height="3" fill="#000"/>
<rect x="383" y="478" width="1" height="3" fill="#000"/>
<rect x="447" y="478" width="1" height="3" fill="#000"/>
<rect x="511" y="478" width="1" height="3" fill="#000"/>
<rect x="575" y="478" width="1" height="3" fill="#000"/>
<rect x="639" y="478" width="1" height="3" fill="#000"/>
</g>
<g font-family='"Liberation Sans", sans-serif' text-rendering="geometricPrecision">
<path d="M2 8h7v1h-1v1h-1v1h-1v1h-1v-1h-1v-1h-1v-1h-1z" fill="#000" shape-rendering="crispEdges"/>
<text transform="translate(14.80,13) scale(0.9360,1)" font-size="10.00" fill="#000" stroke="#000" stroke-width="0.25">#USDX,H1</text>
<text transform="translate(67.03,13) scale(0.9349,1)" font-size="10.00" fill="#000" stroke="#000" stroke-width="0.25">99.01 99.03 98.99 99.00</text>
<text transform="translate(851.63,7) scale(0.9378,1)" font-size="10.00" fill="#000" stroke="#000" stroke-width="0.25">99.20</text>
<text transform="translate(851.63,49) scale(0.9378,1)" font-size="10.00" fill="#000" stroke="#000" stroke-width="0.25">99.05</text>
<text transform="translate(851.63,92) scale(0.9378,1)" font-size="10.00" fill="#000" stroke="#000" stroke-width="0.25">98.90</text>
<text transform="translate(851.63,135) scale(0.9378,1)" font-size="10.00" fill="#000" stroke="#000" stroke-width="0.25">98.75</text>
<text transform="translate(851.63,178) scale(0.9378,1)" font-size="10.00" fill="#000" stroke="#000" stroke-width="0.25">98.60</text>
<text transform="translate(851.63,221) scale(0.9378,1)" font-size="10.00" fill="#000" stroke="#000" stroke-width="0.25">98.45</text>
<text transform="translate(851.63,264) scale(0.9378,1)" font-size="10.00" fill="#000" stroke="#000" stroke-width="0.25">98.30</text>
<text transform="translate(851.63,307) scale(0.9378,1)" font-size="10.00" fill="#000" stroke="#000" stroke-width="0.25">98.15</text>
<text transform="translate(851.63,350) scale(0.9378,1)" font-size="10.00" fill="#000" stroke="#000" stroke-width="0.25">98.00</text>
<text transform="translate(851.63,393) scale(0.9378,1)" font-size="10.00" fill="#000" stroke="#000" stroke-width="0.25">97.85</text>
<text transform="translate(849.63,416) scale(0.9226,1)" font-size="10.00" fill="#000" stroke="#000" stroke-width="0.25">0.0513</text>
<text transform="translate(849.26,424) scale(0.8544,1)" font-size="10.00" fill="#000" stroke="#000" stroke-width="0.25">80</text>
<text transform="translate(849.22,438) scale(0.9412,1)" font-size="10.00" fill="#000" stroke="#000" stroke-width="0.25">0.00</text>
<text transform="translate(848.94,466) scale(0.9216,1)" font-size="10.00" fill="#000" stroke="#000" stroke-width="0.25">20</text>
<text transform="translate(849.43,474) scale(0.9333,1)" font-size="10.00" fill="#000" stroke="#000" stroke-width="0.25">-0.0777</text>
<text transform="translate(62.23,490) scale(0.9180,1)" font-size="10.00" fill="#000" stroke="#000" stroke-width="0.25">30 Dec 19:00</text>
<text transform="translate(126.23,490) scale(0.9180,1)" font-size="10.00" fill="#000" stroke="#000" stroke-width="0.25">31 Dec 12:00</text>
<text transform="translate(190.14,490) scale(0.9180,1)" font-size="10.00" fill="#000" stroke="#000" stroke-width="0.25">2 Jan 09:00</text>
<text transform="translate(254.23,490) scale(0.9180,1)" font-size="10.00" fill="#000" stroke="#000" stroke-width="0.25">5 Jan 02:00</text>
<text transform="translate(318.23,490) scale(0.9180,1)" font-size="10.00" fill="#000" stroke="#000" stroke-width="0.25">5 Jan 18:00</text>
<text transform="translate(382.14,490) scale(0.9180,1)" font-size="10.00" fill="#000" stroke="#000" stroke-width="0.25">6 Jan 11:00</text>
<text transform="translate(446.14,490) scale(0.9180,1)" font-size="10.00" fill="#000" stroke="#000" stroke-width="0.25">7 Jan 04:00</text>
<text transform="translate(510.14,490) scale(0.9180,1)" font-size="10.00" fill="#000" stroke="#000" stroke-width="0.25">7 Jan 20:00</text>
<text transform="translate(574.23,490) scale(0.9180,1)" font-size="10.00" fill="#000" stroke="#000" stroke-width="0.25">8 Jan 13:00</text>
<text transform="translate(638.14,490) scale(0.9180,1)" font-size="10.00" fill="#000" stroke="#000" stroke-width="0.25">9 Jan 06:00</text>
<text transform="translate(-2.38,490) scale(0.9180,1)" font-size="10.00" fill="#000" stroke="#000" stroke-width="0.25">30 Dec 2025</text>
</g>
<g shape-rendering="crispEdges">
<rect x="848" y="16" width="31" height="11" fill="#708090"/>
<rect x="848" y="127" width="31" height="11" fill="#708090"/>
<rect x="848" y="155" width="31" height="11" fill="#708090"/>
<rect x="848" y="195" width="31" height="11" fill="#708090"/>
<rect x="848" y="292" width="31" height="11" fill="#708090"/>
<rect x="848" y="382" width="31" height="11" fill="#708090"/>
<rect x="848" y="55" width="31" height="11" fill="#000"/>
<rect x="848" y="422" width="12" height="10" fill="#708090"/>
<rect x="848" y="437" width="12" height="10" fill="#708090"/>
<rect x="848" y="450" width="12" height="10" fill="#708090"/>
</g>
<g font-family='"Liberation Sans", sans-serif' text-rendering="geometricPrecision">
<text transform="translate(851.84,25) scale(0.9295,1)" font-size="10.00" fill="#fff" stroke="#fff" stroke-width="0.25">99.13</text>
<text transform="translate(851.84,136) scale(0.9256,1)" font-size="10.00" fill="#fff" stroke="#fff" stroke-width="0.25">98.74</text>
<text transform="translate(851.84,164) scale(0.9295,1)" font-size="10.00" fill="#fff" stroke="#fff" stroke-width="0.25">98.65</text>
<text transform="translate(851.83,204) scale(0.9333,1)" font-size="10.00" fill="#fff" stroke="#fff" stroke-width="0.25">98.51</text>
<text transform="translate(851.83,301) scale(0.9333,1)" font-size="10.00" fill="#fff" stroke="#fff" stroke-width="0.25">98.17</text>
<text transform="translate(851.84,391) scale(0.9295,1)" font-size="10.00" fill="#fff" stroke="#fff" stroke-width="0.25">97.85</text>
<text transform="translate(851.84,64) scale(0.9295,1)" font-size="10.00" fill="#fff" stroke="#fff" stroke-width="0.25">99.00</text>
<text transform="translate(849.15,430.5) scale(0.9020,1)" font-size="10.00" fill="#fff" stroke="#fff" stroke-width="0.25">70</text>
<text transform="translate(849.24,445.5) scale(0.8932,1)" font-size="10.00" fill="#fff" stroke="#fff" stroke-width="0.25">50</text>
<text transform="translate(849.24,458.5) scale(0.8932,1)" font-size="10.00" fill="#fff" stroke="#fff" stroke-width="0.25">30</text>
</g>
</svg>
</body></html>
